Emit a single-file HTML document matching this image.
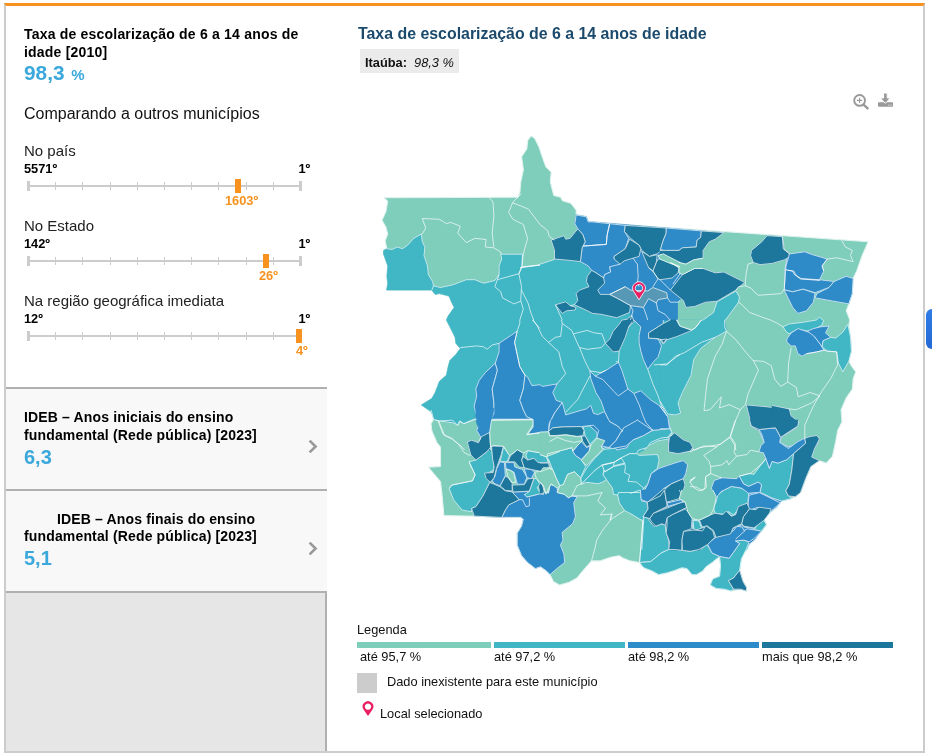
<!DOCTYPE html>
<html lang="pt-BR">
<head>
<meta charset="utf-8">
<title>Taxa de escolarização de 6 a 14 anos de idade</title>
<style>
*{box-sizing:border-box;margin:0;padding:0}
html,body{width:932px;height:753px;overflow:hidden;background:#fff}
body{position:relative;font-family:"Liberation Sans",sans-serif;color:#111}
.abs{position:absolute;white-space:nowrap}
#frame{position:absolute;left:4px;top:3px;width:921px;height:750px;border-left:2px solid #ccc;border-right:2px solid #ccc;border-bottom:2px solid #ccc;border-top:3px solid #f7921e}
.b13{font-size:14px;font-weight:bold;line-height:17.5px;color:#000;letter-spacing:.15px}
.blue{color:#3ba8dc;font-weight:bold}
.item{position:absolute;left:6px;width:321px;background:#f8f8f8;border-top:2px solid #b0b0b0}
.rank{font-size:12.8px;font-weight:bold;color:#000}
.or{color:#f7921e}
.lbl15{font-size:15px;color:#222}
.track{position:absolute;left:28px;width:273px;height:2px;background:#ccc}
.tick{position:absolute;width:1px;height:8px;background:#ccc}
.cap{position:absolute;width:3px;height:10px;background:#ccc}
.mark{position:absolute;width:6px;height:14px;background:#f7921e}
.t12{font-size:12.8px;color:#111}
</style>
</head>
<body>
<div id="frame"></div>

<!-- LEFT PANEL -->
<div class="abs b13" style="left:24px;top:25.0px;white-space:normal;width:290px;line-height:18px;letter-spacing:.2px">Taxa de escolarização de 6 a 14 anos de idade [2010]</div>
<div class="abs blue" style="left:24px;top:62px;font-size:20.8px;line-height:22px">98,3 <span style="font-size:15px;margin-left:1px">%</span></div>
<div class="abs" style="left:24px;top:104.5px;font-size:16px;line-height:18px;color:#111">Comparando a outros municípios</div>

<div class="abs lbl15" style="left:24px;top:141.6px;line-height:18px">No país</div>
<div class="abs rank" style="left:24px;top:160.7px;line-height:15px">5571º</div>
<div class="abs rank" style="left:298.5px;top:160.7px;line-height:15px">1º</div>
<div class="track" style="top:185.3px"></div>
<div class="cap" style="left:27px;top:181.3px"></div>
<div class="cap" style="left:299px;top:181.3px"></div>
<div class="tick" style="left:55.2px;top:182.3px"></div><div class="tick" style="left:82.4px;top:182.3px"></div><div class="tick" style="left:109.6px;top:182.3px"></div><div class="tick" style="left:136.8px;top:182.3px"></div><div class="tick" style="left:164.0px;top:182.3px"></div><div class="tick" style="left:191.2px;top:182.3px"></div><div class="tick" style="left:218.4px;top:182.3px"></div><div class="tick" style="left:245.6px;top:182.3px"></div><div class="tick" style="left:272.8px;top:182.3px"></div>
<div class="mark" style="left:235px;top:179.0px"></div>
<div class="abs rank or" style="left:225px;top:192.7px;line-height:15px">1603º</div>
<div class="abs lbl15" style="left:24px;top:216.6px;line-height:18px">No Estado</div>
<div class="abs rank" style="left:24px;top:235.7px;line-height:15px">142º</div>
<div class="abs rank" style="left:298.5px;top:235.7px;line-height:15px">1º</div>
<div class="track" style="top:260.3px"></div>
<div class="cap" style="left:27px;top:256.3px"></div>
<div class="cap" style="left:299px;top:256.3px"></div>
<div class="tick" style="left:55.2px;top:257.3px"></div><div class="tick" style="left:82.4px;top:257.3px"></div><div class="tick" style="left:109.6px;top:257.3px"></div><div class="tick" style="left:136.8px;top:257.3px"></div><div class="tick" style="left:164.0px;top:257.3px"></div><div class="tick" style="left:191.2px;top:257.3px"></div><div class="tick" style="left:218.4px;top:257.3px"></div><div class="tick" style="left:245.6px;top:257.3px"></div><div class="tick" style="left:272.8px;top:257.3px"></div>
<div class="mark" style="left:263px;top:254.0px"></div>
<div class="abs rank or" style="left:259px;top:267.7px;line-height:15px">26º</div>
<div class="abs lbl15" style="left:24px;top:291.6px;line-height:18px">Na região geográfica imediata</div>
<div class="abs rank" style="left:24px;top:310.7px;line-height:15px">12º</div>
<div class="abs rank" style="left:298.5px;top:310.7px;line-height:15px">1º</div>
<div class="track" style="top:335.3px"></div>
<div class="cap" style="left:27px;top:331.3px"></div>
<div class="cap" style="left:299px;top:331.3px"></div>
<div class="tick" style="left:55.2px;top:332.3px"></div><div class="tick" style="left:82.4px;top:332.3px"></div><div class="tick" style="left:109.6px;top:332.3px"></div><div class="tick" style="left:136.8px;top:332.3px"></div><div class="tick" style="left:164.0px;top:332.3px"></div><div class="tick" style="left:191.2px;top:332.3px"></div><div class="tick" style="left:218.4px;top:332.3px"></div><div class="tick" style="left:245.6px;top:332.3px"></div><div class="tick" style="left:272.8px;top:332.3px"></div>
<div class="mark" style="left:296px;top:329.0px"></div>
<div class="abs rank or" style="left:296px;top:342.7px;line-height:15px">4º</div>


<div class="item" style="top:387px;height:102px"></div>
<div class="item" style="top:489px;height:102px"></div>
<div style="position:absolute;left:6px;top:591px;width:321px;height:160px;background:#e6e6e6;border-top:2px solid #b0b0b0;border-right:2px solid #b0b0b0"></div>

<div class="abs b13" style="left:24px;top:409.4px;white-space:normal;width:270px">IDEB – Anos iniciais do ensino fundamental (Rede pública) [2023]</div>
<div class="abs blue" style="left:24px;top:445.5px;font-size:20px;line-height:22px">6,3</div>
<div class="abs b13" style="left:24px;top:510.7px;white-space:normal;width:270px"><span style="padding-left:33px">IDEB – Anos finais do ensino</span> fundamental (Rede pública) [2023]</div>
<div class="abs blue" style="left:24px;top:547.2px;font-size:20px;line-height:22px">5,1</div>

<!-- RIGHT PANEL -->
<div class="abs" style="left:358px;top:25px;font-size:15.9px;font-weight:bold;line-height:18px;color:#1b4a6d">Taxa de escolarização de 6 a 14 anos de idade</div>
<div class="abs" style="left:360px;top:49px;width:99px;height:24px;background:#ebebeb"></div>
<div class="abs t12" style="left:365px;top:55px;line-height:15px"><b>Itaúba:</b>&nbsp; <i>98,3 %</i></div>

<svg id="map" class="abs" style="left:0;top:0" width="932" height="753" viewBox="0 0 932 753">
<style>.w{fill:none}</style>
<g stroke="#fff" stroke-width="0.8" stroke-linejoin="round" stroke-opacity="0.85">
<polygon points="384.3,197.8 518.1,197.3 520.0,192.1 520.9,181.8 523.5,169.7 521.7,156.8 526.9,149.0 527.8,140.4 531.2,136.0 534.7,138.6 539.0,147.3 542.4,157.6 545.9,167.1 551.1,172.3 550.2,181.8 553.7,195.6 560.6,197.3 562.3,200.8 570.9,203.4 576.1,210.3 576.1,214.6 586.4,216.3 588.2,222.3 591.6,222.3 868.1,241.8 861.7,256.4 856.6,271.1 853.1,278.0 852.3,293.6 848.8,303.9 846.2,310.8 849.7,320.0 848.8,325.2 850.5,337.3 851.4,351.1 848.8,361.4 852.3,367.5 855.7,371.8 853.1,378.7 852.3,389.0 846.2,397.7 841.0,409.7 841.9,421.8 837.6,430.4 835.8,440.7 832.4,456.2 826.3,463.1 819.4,460.6 810.8,466.6 805.6,478.7 800.5,492.5 791.8,498.5 781.5,501.1 776.3,508.0 769.4,513.2 762.9,518.5 766.3,524.5 761.2,531.4 754.3,538.3 749.1,541.8 746.5,548.7 741.3,559.0 739.6,570.3 743.0,581.5 746.5,587.5 746.5,591.0 740.5,589.2 731.0,591.0 724.9,589.2 716.3,588.4 710.3,584.9 712.8,578.9 719.7,576.3 720.6,565.9 719.7,556.4 716.3,559.0 712.0,562.5 705.9,566.8 702.5,571.1 696.4,574.6 692.1,574.6 687.0,568.5 681.8,567.7 674.9,570.3 667.1,572.8 658.5,574.6 652.4,571.1 643.8,567.7 639.5,562.5 630.0,560.8 623.4,558.2 619.1,555.6 610.5,557.3 600.1,560.8 591.5,560.8 585.4,567.7 581.1,572.8 576.8,578.0 569.0,582.3 559.5,584.9 553.5,581.5 550.1,574.6 546.6,571.1 540.6,566.8 535.4,568.5 527.6,562.5 521.6,555.6 517.3,545.2 517.3,533.1 521.6,526.2 523.3,519.3 520.7,517.3 500.0,517.3 474.2,516.1 444.0,515.6 442.3,496.3 440.6,481.6 428.5,467.3 440.6,466.6 440.6,447.1 437.1,442.8 431.9,430.7 431.1,423.8 433.7,419.5 431.1,410.0 430.9,411.5 425.7,408.0 421.4,404.9 431.8,398.5 435.2,392.5 439.5,381.3 446.4,375.2 448.2,366.6 449.9,360.6 455.9,354.5 460.3,348.5 455.9,343.3 455.1,337.3 450.8,328.6 446.4,320.0 448.2,316.0 454.2,307.4 451.6,302.2 449.0,296.1 439.5,293.6 435.2,294.4 431.8,290.1 386.6,290.1 387.8,283.2 386.9,276.3 387.8,265.9 383.5,253.9 383.5,250.4 386.9,248.7 385.2,240.9 387.8,234.0 386.0,227.1 382.1,220.2 386.0,211.6 387.8,201.2" fill="#7fcdbb" stroke="#7fcdbb" stroke-opacity="1" stroke-width="0.5"/>
<path d="M384.3 197.8 L518.1 197.3 L520.0 192.1 L520.9 181.8 L523.5 169.7 L521.7 156.8 L526.9 149.0 L527.8 140.4 L531.2 136.0 L534.7 138.6 L539.0 147.3 L542.4 157.6 L545.9 167.1 L551.1 172.3 L550.2 181.8 L553.7 195.6 L560.6 197.3 L562.3 200.8 L570.9 203.4 L576.1 210.3 L576.1 214.6 L586.4 216.3 L588.2 222.3 L591.6 222.3 L868.1 241.8 L861.7 256.4 L856.6 271.1 L853.1 278.0 L852.3 293.6 L848.8 303.9 L846.2 310.8 L849.7 320.0 L848.8 325.2 L850.5 337.3 L851.4 351.1 L848.8 361.4 L852.3 367.5 L855.7 371.8 L853.1 378.7 L852.3 389.0 L846.2 397.7 L841.0 409.7 L841.9 421.8 L837.6 430.4 L835.8 440.7 L832.4 456.2 L826.3 463.1 L819.4 460.6 L810.8 466.6 L805.6 478.7 L800.5 492.5 L791.8 498.5 L781.5 501.1 L776.3 508.0 L769.4 513.2 L762.9 518.5 L766.3 524.5 L761.2 531.4 L754.3 538.3 L749.1 541.8 L746.5 548.7 L741.3 559.0 L739.6 570.3 L743.0 581.5 L746.5 587.5 L746.5 591.0 L740.5 589.2 L731.0 591.0 L724.9 589.2 L716.3 588.4 L710.3 584.9 L712.8 578.9 L719.7 576.3 L720.6 565.9 L719.7 556.4 L716.3 559.0 L712.0 562.5 L705.9 566.8 L702.5 571.1 L696.4 574.6 L692.1 574.6 L687.0 568.5 L681.8 567.7 L674.9 570.3 L667.1 572.8 L658.5 574.6 L652.4 571.1 L643.8 567.7 L639.5 562.5 L630.0 560.8 L623.4 558.2 L619.1 555.6 L610.5 557.3 L600.1 560.8 L591.5 560.8 L585.4 567.7 L581.1 572.8 L576.8 578.0 L569.0 582.3 L559.5 584.9 L553.5 581.5 L550.1 574.6 L546.6 571.1 L540.6 566.8 L535.4 568.5 L527.6 562.5 L521.6 555.6 L517.3 545.2 L517.3 533.1 L521.6 526.2 L523.3 519.3 L520.7 517.3 L500.0 517.3 L474.2 516.1 L444.0 515.6 L442.3 496.3 L440.6 481.6 L428.5 467.3 L440.6 466.6 L440.6 447.1 L437.1 442.8 L431.9 430.7 L431.1 423.8 L433.7 419.5 L431.1 410.0 L430.9 411.5 L425.7 408.0 L421.4 404.9 L431.8 398.5 L435.2 392.5 L439.5 381.3 L446.4 375.2 L448.2 366.6 L449.9 360.6 L455.9 354.5 L460.3 348.5 L455.9 343.3 L455.1 337.3 L450.8 328.6 L446.4 320.0 L448.2 316.0 L454.2 307.4 L451.6 302.2 L449.0 296.1 L439.5 293.6 L435.2 294.4 L431.8 290.1 L386.6 290.1 L387.8 283.2 L386.9 276.3 L387.8 265.9 L383.5 253.9 L383.5 250.4 L386.9 248.7 L385.2 240.9 L387.8 234.0 L386.0 227.1 L382.1 220.2 L386.0 211.6 L387.8 201.2 L384.3 197.8" class="w"/>
<polygon points="386.9,248.7 392.1,249.5 397.3,247.0 402.4,248.7 407.6,245.2 413.7,238.3 421.4,234.0 422.3,241.8 424.9,247.0 424.0,255.6 427.5,265.9 428.3,274.6 432.6,281.5 433.5,285.8 440.4,287.5 452.5,284.9 466.3,279.7 474.9,279.7 483.6,283.2 494.8,280.6 499.1,274.6 499.1,265.9 501.7,259.0 500.8,254.2 522.4,254.2 521.9,266.8 530.2,265.9 540.0,265.1 520.0,267.7 537.3,265.1 554.5,259.4 570.1,260.4 580.4,261.6 597.7,265.9 623.6,320.0 640.8,320.0 701.4,320.0 724.7,320.0 726.4,331.2 715.2,337.3 700.6,348.5 693.7,359.7 691.1,375.2 682.4,392.5 678.1,402.8 680.7,413.2 675.5,414.9 667.8,414.1 670.2,427.9 668.4,439.1 658.1,440.8 647.7,446.0 644.3,450.0 636.7,453.7 621.1,458.0 602.1,464.9 586.6,478.7 581.4,483.9 577.0,426.1 548.5,432.2 532.7,419.2 491.3,419.2 476.7,419.2 463.7,423.6 459.4,421.0 457.7,425.3 452.5,420.1 438.7,421.0 435.2,419.8 430.9,411.5 425.7,408.0 421.4,404.9 431.8,398.5 435.2,392.5 439.5,381.3 446.4,375.2 448.2,366.6 449.9,360.6 455.9,354.5 460.3,348.5 455.9,343.3 455.1,337.3 450.8,328.6 446.4,320.0 448.2,316.0 454.2,307.4 451.6,302.2 449.0,296.1 439.5,293.6 435.2,294.4 431.8,290.1 386.6,290.1 387.8,283.2 386.9,276.3 387.8,265.9 383.5,253.9 383.5,250.4" fill="#41b6c4" stroke="#41b6c4" stroke-opacity="1" stroke-width="0.6"/>
<polygon points="576.1,215.0 586.4,216.8 588.2,221.9 592.5,221.9 666.0,228.0 701.4,230.9 700.6,237.5 697.1,240.1 696.2,247.0 682.4,247.8 679.0,250.4 680.7,272.8 682.4,274.6 670.4,290.1 680.7,298.7 677.3,302.2 677.3,320.0 660.0,320.0 663.3,320.0 633.9,320.0 630.5,320.0 630.5,305.6 616.7,297.9 609.7,294.4 600.3,294.4 597.7,290.1 604.6,283.2 603.7,278.0 595.9,272.8 591.6,270.3 588.2,265.9 580.4,261.6 582.1,247.8 585.2,241.8 583.0,234.9 577.8,228.8 574.9,223.7" fill="#2f8ac8" stroke="#2f8ac8" stroke-opacity="1" stroke-width="0.6"/>
<polygon points="614.2,313.1 630.6,310.6 634.1,321.8 621.1,321.8" fill="#41b6c4" stroke="#41b6c4" stroke-opacity="1" stroke-width="0.6"/>
<polygon points="701.4,320.0 724.7,320.0 724.7,326.9 726.4,331.2 715.2,337.3 700.6,348.5 693.7,359.7 691.1,375.2 682.4,392.5 678.1,402.8 680.7,413.2 675.5,414.9 667.8,414.1 660.0,401.1 660.0,344.2 666.9,339.8 677.3,336.4 691.9,330.4 695.4,327.8" fill="#41b6c4" stroke="#41b6c4" stroke-opacity="1" stroke-width="0.6"/>
<polygon points="735.9,291.0 739.4,297.0 738.5,302.2 725.6,320.0 724.7,320.0 701.4,320.0 703.1,320.0 713.5,312.5 717.0,301.8" fill="#41b6c4" stroke="#41b6c4" stroke-opacity="1" stroke-width="0.5"/>
<path d="M735.9 291.0 L739.4 297.0 L738.5 302.2 L725.6 320.0 L724.7 320.0 M701.4 320.0 L703.1 320.0 L713.5 312.5 L717.0 301.8 L735.9 291.0" class="w"/>
<polygon points="783.0,326.9 789.0,324.0 802.8,322.3 816.7,320.0 819.2,317.1 823.6,320.6 821.8,325.2 816.7,328.0 808.9,331.3 797.7,329.2 789.0,333.8 786.4,331.8" fill="#41b6c4" stroke="#41b6c4" stroke-opacity="1" stroke-width="0.5"/>
<path d="M783.0 326.9 L789.0 324.0 L802.8 322.3 L816.7 320.0 L819.2 317.1 L823.6 320.6 L821.8 325.2 L816.7 328.0 L808.9 331.3 L797.7 329.2 L789.0 333.8 L786.4 331.8 L783.0 326.9" class="w"/>
<polygon points="822.9,340.7 830.7,337.3 835.9,338.1 842.8,332.1 847.9,324.3 850.5,337.3 851.4,351.1 848.8,361.4 842.8,371.8 838.4,363.1 836.7,351.9 827.2,351.1 822.1,346.8" fill="#41b6c4" stroke="#41b6c4" stroke-opacity="1" stroke-width="0.5"/>
<path d="M822.9 340.7 L830.7 337.3 L835.9 338.1 L842.8 332.1 L847.9 324.3 L850.5 337.3 L851.4 351.1 L848.8 361.4 L842.8 371.8 L838.4 363.1 L836.7 351.9 L827.2 351.1 L822.1 346.8 L822.9 340.7" class="w"/>
<polygon points="652.9,430.5 658.1,428.7 670.2,427.9 671.9,433.0 668.4,439.1 658.1,440.8 647.7,446.0 644.3,450.0 627.9,450.0 627.0,447.7 630.5,440.8 644.3,433.9" fill="#41b6c4" stroke="#41b6c4" stroke-opacity="1" stroke-width="0.5"/>
<path d="M652.9 430.5 L658.1 428.7 L670.2 427.9 L671.9 433.0 L668.4 439.1 L658.1 440.8 L647.7 446.0 L644.3 450.0 M627.9 450.0 L627.0 447.7 L630.5 440.8 L644.3 433.9 L652.9 430.5" class="w"/>
<polygon points="660.0,429.6 669.5,429.6 672.1,432.2 668.6,437.4 660.0,437.4 671.9,433.0 670.2,427.9" fill="#41b6c4" stroke="#41b6c4" stroke-opacity="1" stroke-width="0.5"/>
<path d="M660.0 429.6 L669.5 429.6 L672.1 432.2 L668.6 437.4 L660.0 437.4 L671.9 433.0 L670.2 427.9 L660.0 429.6" class="w"/>
<polygon points="583.9,427.0 589.0,425.3 596.8,432.2 597.7,440.8 590.8,446.0 585.6,434.8" fill="#41b6c4" stroke="#41b6c4" stroke-opacity="1" stroke-width="0.5"/>
<path d="M583.9 427.0 L589.0 425.3 L596.8 432.2 L597.7 440.8 L590.8 446.0 L585.6 434.8 L583.9 427.0" class="w"/>
<polygon points="431.1,410.0 475.9,410.0 475.9,418.6 469.0,421.2 463.9,423.8 460.4,421.2 457.8,425.5 453.5,422.9 438.0,420.7 433.7,419.5" fill="#41b6c4" stroke="#41b6c4" stroke-opacity="1" stroke-width="0.6"/>
<polygon points="487.2,451.4 491.1,446.6 492.3,454.9 494.1,465.2 493.2,470.4 486.3,473.9 489.7,482.5 482.8,496.3 475.9,506.7 471.6,508.4 471.6,511.8 462.1,510.1 453.5,499.7 449.2,488.5 451.8,485.1 472.5,480.8 475.1,474.7 469.0,461.8 475.9,460.1" fill="#41b6c4" stroke="#41b6c4" stroke-opacity="1" stroke-width="0.5"/>
<path d="M487.2 451.4 L491.1 446.6 L492.3 454.9 L494.1 465.2 L493.2 470.4 L486.3 473.9 L489.7 482.5 L482.8 496.3 L475.9 506.7 L471.6 508.4 L471.6 511.8 L462.1 510.1 L453.5 499.7 L449.2 488.5 L451.8 485.1 L472.5 480.8 L475.1 474.7 L469.0 461.8 L475.9 460.1 L487.2 451.4" class="w"/>
<polygon points="503.6,447.1 509.6,455.7 507.0,461.8 500.1,461.4" fill="#41b6c4" stroke="#41b6c4" stroke-opacity="1" stroke-width="0.5"/>
<path d="M503.6 447.1 L509.6 455.7 L507.0 461.8 L500.1 461.4 L503.6 447.1" class="w"/>
<polygon points="527.7,450.6 541.5,453.1 546.7,457.5 548.4,462.6 538.1,462.6 533.8,458.3 527.7,460.1 526.0,455.7" fill="#41b6c4" stroke="#41b6c4" stroke-opacity="1" stroke-width="0.5"/>
<path d="M527.7 450.6 L541.5 453.1 L546.7 457.5 L548.4 462.6 L538.1 462.6 L533.8 458.3 L527.7 460.1 L526.0 455.7 L527.7 450.6" class="w"/>
<polygon points="533.8,479.0 536.3,478.2 539.8,484.2 537.2,487.7 540.7,493.7 526.9,497.2 524.3,494.6 529.4,491.1" fill="#41b6c4" stroke="#41b6c4" stroke-opacity="1" stroke-width="0.5"/>
<path d="M533.8 479.0 L536.3 478.2 L539.8 484.2 L537.2 487.7 L540.7 493.7 L526.9 497.2 L524.3 494.6 L529.4 491.1 L533.8 479.0" class="w"/>
<polygon points="546.7,456.6 560.0,451.4 540.0,454.5 546.9,457.1 548.6,459.7 548.6,463.1 540.0,463.1 560.0,494.6 557.1,493.7 557.1,482.5 551.9,468.7 549.3,467.0 548.4,462.6" fill="#41b6c4" stroke="#41b6c4" stroke-opacity="1" stroke-width="0.5"/>
<path d="M546.7 456.6 L560.0 451.4 L540.0 454.5 L546.9 457.1 L548.6 459.7 L548.6 463.1 L540.0 463.1 L560.0 494.6 L557.1 493.7 L557.1 482.5 L551.9 468.7 L549.3 467.0 L548.4 462.6 L546.7 456.6" class="w"/>
<polygon points="583.1,426.6 593.5,425.2 598.7,430.4 597.0,437.3 590.1,444.2 585.2,435.9 584.0,430.4" fill="#41b6c4" stroke="#41b6c4" stroke-opacity="1" stroke-width="0.5"/>
<path d="M583.1 426.6 L593.5 425.2 L598.7 430.4 L597.0 437.3 L590.1 444.2 L585.2 435.9 L584.0 430.4 L583.1 426.6" class="w"/>
<polygon points="652.2,430.4 660.8,429.5 669.4,428.6 672.0,432.1 667.7,437.3 660.8,438.1 650.5,442.4 647.0,447.6 638.4,450.2 636.7,453.7 629.7,453.7 621.1,458.0 614.2,462.3 602.1,464.9 595.2,470.1 586.6,478.7 581.4,483.9 580.6,478.7 586.6,468.3 593.5,459.7 600.4,452.8 603.9,449.3 612.5,448.5 626.3,445.9 633.2,439.8 643.6,435.5" fill="#41b6c4" stroke="#41b6c4" stroke-opacity="1" stroke-width="0.5"/>
<path d="M652.2 430.4 L660.8 429.5 L669.4 428.6 L672.0 432.1 L667.7 437.3 L660.8 438.1 L650.5 442.4 L647.0 447.6 L638.4 450.2 L636.7 453.7 L629.7 453.7 L621.1 458.0 L614.2 462.3 L602.1 464.9 L595.2 470.1 L586.6 478.7 L581.4 483.9 L580.6 478.7 L586.6 468.3 L593.5 459.7 L600.4 452.8 L603.9 449.3 L612.5 448.5 L626.3 445.9 L633.2 439.8 L643.6 435.5 L652.2 430.4" class="w"/>
<polygon points="546.9,457.1 547.8,453.7 562.4,450.2 571.9,447.6 572.8,451.1 575.4,455.4 581.4,459.7 585.7,466.6 580.6,477.8 574.5,471.8 567.6,474.4 563.3,484.7 559.8,485.6 556.4,478.7 552.9,470.1 548.6,459.7" fill="#41b6c4" stroke="#41b6c4" stroke-opacity="1" stroke-width="0.5"/>
<path d="M546.9 457.1 L547.8 453.7 L562.4 450.2 L571.9 447.6 L572.8 451.1 L575.4 455.4 L581.4 459.7 L585.7 466.6 L580.6 477.8 L574.5 471.8 L567.6 474.4 L563.3 484.7 L559.8 485.6 L556.4 478.7 L552.9 470.1 L548.6 459.7 L546.9 457.1" class="w"/>
<polygon points="602.1,465.2 614.2,462.3 621.1,458.0 629.7,453.7 636.7,453.7 639.2,455.4 657.4,454.5 659.1,459.7 657.4,468.3 651.3,473.5 647.9,483.9 643.6,488.2 640.1,492.5 641.8,501.1 647.0,502.8 647.9,509.7 643.6,516.7 647.9,520.1 653.9,527.0 659.1,523.6 665.1,526.1 668.6,540.8 669.4,550.0 641.8,550.0 643.6,521.8 641.8,519.2 624.6,510.6 619.4,502.8 617.7,495.1 613.4,494.2 612.5,488.2 606.4,479.5 603.0,475.2 603.9,470.1" fill="#41b6c4" stroke="#41b6c4" stroke-opacity="1" stroke-width="0.5"/>
<path d="M602.1 465.2 L614.2 462.3 L621.1 458.0 L629.7 453.7 L636.7 453.7 L639.2 455.4 L657.4 454.5 L659.1 459.7 L657.4 468.3 L651.3 473.5 L647.9 483.9 L643.6 488.2 L640.1 492.5 L641.8 501.1 L647.0 502.8 L647.9 509.7 L643.6 516.7 L647.9 520.1 L653.9 527.0 L659.1 523.6 L665.1 526.1 L668.6 540.8 L669.4 550.0 M641.8 550.0 L643.6 521.8 L641.8 519.2 L624.6 510.6 L619.4 502.8 L617.7 495.1 L613.4 494.2 L612.5 488.2 L606.4 479.5 L603.0 475.2 L603.9 470.1 L602.1 465.2" class="w"/>
<polygon points="693.6,520.1 700.0,520.1 700.0,530.5 692.7,528.7" fill="#41b6c4" stroke="#41b6c4" stroke-opacity="1" stroke-width="0.5"/>
<path d="M693.6 520.1 L700.0 520.1 M700.0 530.5 L692.7 528.7 L693.6 520.1" class="w"/>
<polygon points="581.1,484.5 586.6,478.7 595.2,470.1 602.1,465.2 603.9,470.1 603.0,475.2 606.4,479.5 602.7,482.0 598.3,483.7 590.6,482.8 586.3,482.3" fill="#41b6c4" stroke="#41b6c4" stroke-opacity="1" stroke-width="0.5"/>
<path d="M581.1 484.5 L586.6 478.7 L595.2 470.1 L602.1 465.2 L603.9 470.1 L603.0 475.2 L606.4 479.5 L602.7 482.0 L598.3 483.7 L590.6 482.8 L586.3 482.3 L581.1 484.5" class="w"/>
<polygon points="765.9,458.8 769.4,468.3 772.0,461.4 778.0,463.1 786.7,459.7 793.6,453.7 791.8,470.1 789.2,484.7 785.8,490.8 788.4,495.9 791.8,498.5 781.5,501.1 771.1,497.7 764.2,494.2 759.9,492.5 761.6,484.7 758.2,482.1 748.7,486.4 743.5,483.9 739.2,476.1 748.7,473.5 753.9,474.4 760.8,464.9" fill="#41b6c4" stroke="#41b6c4" stroke-opacity="1" stroke-width="0.5"/>
<path d="M765.9 458.8 L769.4 468.3 L772.0 461.4 L778.0 463.1 L786.7 459.7 L793.6 453.7 L791.8 470.1 L789.2 484.7 L785.8 490.8 L788.4 495.9 L791.8 498.5 L781.5 501.1 L771.1 497.7 L764.2 494.2 L759.9 492.5 L761.6 484.7 L758.2 482.1 L748.7 486.4 L743.5 483.9 L739.2 476.1 L748.7 473.5 L753.9 474.4 L760.8 464.9 L765.9 458.8" class="w"/>
<polygon points="717.6,495.9 721.1,491.6 731.4,486.4 741.8,488.2 747.8,494.2 747.0,502.8 738.3,506.3 735.7,514.1 731.4,515.8 726.2,510.6 722.8,514.1 715.0,512.3 715.9,502.8" fill="#41b6c4" stroke="#41b6c4" stroke-opacity="1" stroke-width="0.5"/>
<path d="M717.6 495.9 L721.1 491.6 L731.4 486.4 L741.8 488.2 L747.8 494.2 L747.0 502.8 L738.3 506.3 L735.7 514.1 L731.4 515.8 L726.2 510.6 L722.8 514.1 L715.0 512.3 L715.9 502.8 L717.6 495.9" class="w"/>
<polygon points="753.9,527.9 764.2,520.1 765.9,526.1 759.0,533.9 754.7,530.5" fill="#41b6c4" stroke="#41b6c4" stroke-opacity="1" stroke-width="0.5"/>
<path d="M753.9 527.9 L764.2 520.1 L765.9 526.1 L759.0 533.9 L754.7 530.5 L753.9 527.9" class="w"/>
<polygon points="734.9,544.3 735.7,540.0 747.0,541.3 749.5,544.3 747.0,550.0 729.7,550.0" fill="#41b6c4" stroke="#41b6c4" stroke-opacity="1" stroke-width="0.5"/>
<path d="M734.9 544.3 L735.7 540.0 L747.0 541.3 L749.5 544.3 L747.0 550.0 M729.7 550.0 L734.9 544.3" class="w"/>
<polygon points="692.6,520.1 699.5,520.1 702.1,527.0 700.4,530.5 693.5,529.6" fill="#41b6c4" stroke="#41b6c4" stroke-opacity="1" stroke-width="0.5"/>
<path d="M692.6 520.1 L699.5 520.1 L702.1 527.0 L700.4 530.5 L693.5 529.6 L692.6 520.1" class="w"/>
<polygon points="719.7,556.4 720.6,565.9 719.7,576.3 712.8,578.9 710.3,584.9 716.3,588.4 724.9,589.2 731.0,591.0 733.6,589.2 728.4,580.6 733.6,578.0 739.6,570.3 741.3,559.0 746.5,548.7 749.1,541.8 743.9,540.1 735.3,540.9 739.6,543.5 733.6,552.1 729.2,558.2 724.1,557.3" fill="#41b6c4" stroke="#41b6c4" stroke-opacity="1" stroke-width="0.5"/>
<path d="M719.7 556.4 L720.6 565.9 L719.7 576.3 L712.8 578.9 L710.3 584.9 L716.3 588.4 L724.9 589.2 L731.0 591.0 L733.6 589.2 L728.4 580.6 L733.6 578.0 L739.6 570.3 L741.3 559.0 L746.5 548.7 L749.1 541.8 L743.9 540.1 L735.3 540.9 L739.6 543.5 L733.6 552.1 L729.2 558.2 L724.1 557.3 L719.7 556.4" class="w"/>
<polygon points="754.3,529.7 761.2,518.5 762.9,518.5 766.3,524.5 761.2,531.4 758.6,530.6" fill="#41b6c4" stroke="#41b6c4" stroke-opacity="1" stroke-width="0.5"/>
<path d="M754.3 529.7 L761.2 518.5 L762.9 518.5 L766.3 524.5 L761.2 531.4 L758.6 530.6 L754.3 529.7" class="w"/>
<polygon points="713.7,509.0 717.2,495.2 724.1,490.0 749.1,490.0 749.1,495.2 748.2,502.9 740.5,506.4 733.6,515.0 728.4,511.6 723.2,514.2 715.4,513.3" fill="#41b6c4" stroke="#41b6c4" stroke-opacity="1" stroke-width="0.5"/>
<path d="M713.7 509.0 L717.2 495.2 L724.1 490.0 M749.1 490.0 L749.1 495.2 L748.2 502.9 L740.5 506.4 L733.6 515.0 L728.4 511.6 L723.2 514.2 L715.4 513.3 L713.7 509.0" class="w"/>
<polygon points="693.0,520.2 699.0,521.1 700.8,526.2 702.5,530.6 693.9,529.7" fill="#41b6c4" stroke="#41b6c4" stroke-opacity="1" stroke-width="0.5"/>
<path d="M693.0 520.2 L699.0 521.1 L700.8 526.2 L702.5 530.6 L693.9 529.7 L693.0 520.2" class="w"/>
<polygon points="630.0,493.5 640.4,490.0 641.2,499.5 647.3,502.1 648.1,509.0 642.9,516.8 649.8,518.5 651.6,521.9 655.9,526.2 661.9,523.7 665.4,525.4 666.2,533.1 669.7,541.8 668.8,549.5 661.1,553.0 650.7,561.6 639.5,562.5 642.9,521.1 630.0,513.3" fill="#41b6c4" stroke="#41b6c4" stroke-opacity="1" stroke-width="0.5"/>
<path d="M630.0 493.5 L640.4 490.0 L641.2 499.5 L647.3 502.1 L648.1 509.0 L642.9 516.8 L649.8 518.5 L651.6 521.9 L655.9 526.2 L661.9 523.7 L665.4 525.4 L666.2 533.1 L669.7 541.8 L668.8 549.5 L661.1 553.0 L650.7 561.6 L639.5 562.5 L642.9 521.1 L630.0 513.3" class="w"/>
<polygon points="639.5,562.5 650.7,561.6 661.1,553.0 668.8,549.5 675.7,549.5 682.6,550.4 690.4,551.3 699.0,549.5 707.7,544.4 712.0,553.0 719.7,556.4 716.3,559.0 712.0,562.5 705.9,566.8 702.5,571.1 696.4,574.6 692.1,574.6 687.0,568.5 681.8,567.7 674.9,570.3 667.1,572.8 658.5,574.6 652.4,571.1 643.8,567.7" fill="#41b6c4" stroke="#41b6c4" stroke-opacity="1" stroke-width="0.5"/>
<path d="M639.5 562.5 L650.7 561.6 L661.1 553.0 L668.8 549.5 L675.7 549.5 L682.6 550.4 L690.4 551.3 L699.0 549.5 L707.7 544.4 L712.0 553.0 L719.7 556.4 L716.3 559.0 L712.0 562.5 L705.9 566.8 L702.5 571.1 L696.4 574.6 L692.1 574.6 L687.0 568.5 L681.8 567.7 L674.9 570.3 L667.1 572.8 L658.5 574.6 L652.4 571.1 L643.8 567.7 L639.5 562.5" class="w"/>
<polygon points="576.1,215.0 586.4,216.8 588.2,221.9 592.5,221.9 609.7,223.7 607.2,234.9 606.3,244.4 583.0,246.1 585.2,241.8 583.0,234.9 577.8,228.8 574.9,223.7" fill="#2f8ac8" stroke="#2f8ac8" stroke-opacity="1" stroke-width="0.5"/>
<path d="M576.1 215.0 L586.4 216.8 L588.2 221.9 L592.5 221.9 L609.7 223.7 L607.2 234.9 L606.3 244.4 L583.0 246.1 L585.2 241.8 L583.0 234.9 L577.8 228.8 L574.9 223.7 L576.1 215.0" class="w"/>
<polygon points="609.7,223.7 625.3,225.4 624.4,231.4 628.7,238.3 625.3,248.7 614.1,256.4 614.1,259.0 620.1,264.2 609.7,266.8 610.6,272.0 604.6,274.6 603.7,278.0 595.9,272.8 591.6,270.3 588.2,265.9 580.4,261.6 582.1,247.8 583.0,246.1 606.3,244.4 607.2,234.9" fill="#2f8ac8" stroke="#2f8ac8" stroke-opacity="1" stroke-width="0.5"/>
<path d="M609.7 223.7 L625.3 225.4 L624.4 231.4 L628.7 238.3 L625.3 248.7 L614.1 256.4 L614.1 259.0 L620.1 264.2 L609.7 266.8 L610.6 272.0 L604.6 274.6 L603.7 278.0 L595.9 272.8 L591.6 270.3 L588.2 265.9 L580.4 261.6 L582.1 247.8 L583.0 246.1 L606.3 244.4 L607.2 234.9 L609.7 223.7" class="w"/>
<polygon points="614.1,259.0 620.1,264.2 624.4,260.8 633.0,258.2 639.1,256.4 640.8,248.7 641.7,251.3 648.6,267.7 652.9,271.1 658.1,278.9 671.9,278.0 677.9,272.8 680.0,277.2 682.4,274.6 670.4,290.1 680.7,298.7 677.3,302.2 677.3,320.0 660.0,320.0 663.3,320.0 633.9,320.0 630.5,320.0 630.5,305.6 616.7,297.9 609.7,294.4 600.3,294.4 597.7,290.1 604.6,283.2 603.7,278.0 604.6,274.6 610.6,272.0 609.7,266.8" fill="#2f8ac8" stroke="#2f8ac8" stroke-opacity="1" stroke-width="0.6"/>
<polygon points="666.0,228.0 701.4,230.9 700.6,237.5 697.1,240.1 696.2,247.0 682.4,247.8 679.0,250.4 660.0,250.4 662.6,241.8 666.0,233.1" fill="#2f8ac8" stroke="#2f8ac8" stroke-opacity="1" stroke-width="0.5"/>
<path d="M666.0 228.0 L701.4 230.9 L700.6 237.5 L697.1 240.1 L696.2 247.0 L682.4 247.8 L679.0 250.4 L660.0 250.4 L662.6 241.8 L666.0 233.1 L666.0 228.0" class="w"/>
<polygon points="789.3,253.9 804.8,251.8 812.6,254.7 827.2,259.0 822.1,265.9 823.8,271.1 819.5,279.7 800.5,278.9 794.4,274.6 792.7,271.1 784.9,269.7 786.7,259.0" fill="#2f8ac8" stroke="#2f8ac8" stroke-opacity="1" stroke-width="0.5"/>
<path d="M789.3 253.9 L804.8 251.8 L812.6 254.7 L827.2 259.0 L822.1 265.9 L823.8 271.1 L819.5 279.7 L800.5 278.9 L794.4 274.6 L792.7 271.1 L784.9 269.7 L786.7 259.0 L789.3 253.9" class="w"/>
<polygon points="784.9,269.7 792.7,271.1 794.4,274.6 800.5,278.9 819.5,279.7 834.1,281.5 829.0,287.5 815.1,292.7 803.1,289.2 792.7,291.8 784.1,289.8 784.9,279.7" fill="#2f8ac8" stroke="#2f8ac8" stroke-opacity="1" stroke-width="0.5"/>
<path d="M784.9 269.7 L792.7 271.1 L794.4 274.6 L800.5 278.9 L819.5 279.7 L834.1 281.5 L829.0 287.5 L815.1 292.7 L803.1 289.2 L792.7 291.8 L784.1 289.8 L784.9 279.7 L784.9 269.7" class="w"/>
<polygon points="784.1,289.8 792.7,291.8 803.1,289.2 815.1,293.2 813.4,302.2 806.5,310.8 797.9,313.4 792.7,307.4 788.4,298.7" fill="#2f8ac8" stroke="#2f8ac8" stroke-opacity="1" stroke-width="0.5"/>
<path d="M784.1 289.8 L792.7 291.8 L803.1 289.2 L815.1 293.2 L813.4 302.2 L806.5 310.8 L797.9 313.4 L792.7 307.4 L788.4 298.7 L784.1 289.8" class="w"/>
<polygon points="834.1,281.5 846.2,276.3 853.1,278.4 852.3,293.6 848.8,303.9 815.1,297.9 816.9,293.6 829.0,287.5" fill="#2f8ac8" stroke="#2f8ac8" stroke-opacity="1" stroke-width="0.5"/>
<path d="M834.1 281.5 L846.2 276.3 L853.1 278.4 L852.3 293.6 L848.8 303.9 L815.1 297.9 L816.9 293.6 L829.0 287.5 L834.1 281.5" class="w"/>
<polygon points="495.3,363.1 485.3,372.6 479.2,380.4 475.8,389.0 476.7,395.9 474.1,406.3 477.5,418.4 479.2,425.3 476.7,430.5 481.0,437.4 489.6,432.2 490.5,420.1 493.9,413.2 493.9,402.8 492.2,389.0 495.6,377.0 497.4,370.1" fill="#2f8ac8" stroke="#2f8ac8" stroke-opacity="1" stroke-width="0.5"/>
<path d="M495.3 363.1 L485.3 372.6 L479.2 380.4 L475.8 389.0 L476.7 395.9 L474.1 406.3 L477.5 418.4 L479.2 425.3 L476.7 430.5 L481.0 437.4 L489.6 432.2 L490.5 420.1 L493.9 413.2 L493.9 402.8 L492.2 389.0 L495.6 377.0 L497.4 370.1 L495.3 363.1" class="w"/>
<polygon points="517.2,331.2 499.1,343.3 499.1,351.9 495.3,363.1 497.4,370.1 495.6,377.0 492.2,389.0 493.9,402.8 493.9,413.2 491.3,419.2 532.7,419.2 526.7,416.7 523.3,409.7 519.8,400.3 523.3,389.0 525.0,375.2 519.8,366.6 517.2,354.5 514.6,342.4" fill="#2f8ac8" stroke="#2f8ac8" stroke-opacity="1" stroke-width="0.5"/>
<path d="M517.2 331.2 L499.1 343.3 L499.1 351.9 L495.3 363.1 L497.4 370.1 L495.6 377.0 L492.2 389.0 L493.9 402.8 L493.9 413.2 L491.3 419.2 L532.7 419.2 L526.7 416.7 L523.3 409.7 L519.8 400.3 L523.3 389.0 L525.0 375.2 L519.8 366.6 L517.2 354.5 L514.6 342.4 L517.2 331.2" class="w"/>
<polygon points="525.0,375.2 527.6,377.0 531.9,385.6 540.0,384.7 542.4,386.4 557.1,383.9 552.8,392.5 556.2,400.3 562.3,402.5 554.5,413.2 549.3,423.6 548.5,432.2 526.9,434.8 532.9,425.3 532.9,419.2 532.7,419.2 526.7,416.7 523.3,409.7 519.8,400.3 523.3,389.0" fill="#2f8ac8" stroke="#2f8ac8" stroke-opacity="1" stroke-width="0.5"/>
<path d="M525.0 375.2 L527.6 377.0 L531.9 385.6 L540.0 384.7 L542.4 386.4 L557.1 383.9 L552.8 392.5 L556.2 400.3 L562.3 402.5 L554.5 413.2 L549.3 423.6 L548.5 432.2 L526.9 434.8 L532.9 425.3 L532.9 419.2 L532.7 419.2 L526.7 416.7 L523.3 409.7 L519.8 400.3 L523.3 389.0 L525.0 375.2" class="w"/>
<polygon points="475.9,408.3 494.1,408.3 491.5,420.4 489.7,432.4 481.1,436.8 479.4,429.0 476.8,423.8 475.9,418.6" fill="#2f8ac8" stroke="#2f8ac8" stroke-opacity="1" stroke-width="0.6"/>
<polygon points="562.3,402.5 565.7,414.9 577.0,411.5 586.4,408.9 590.8,405.4 593.4,413.2 597.7,414.6 604.6,411.5 611.5,425.3 620.1,428.7 621.8,432.2 613.2,444.3 602.8,448.6 597.7,440.8 596.8,432.2 589.0,425.3 583.0,427.0 577.0,426.1 560.6,427.0 552.8,427.9 548.5,432.2 549.3,423.6 554.5,413.2" fill="#2f8ac8" stroke="#2f8ac8" stroke-opacity="1" stroke-width="0.5"/>
<path d="M562.3 402.5 L565.7 414.9 L577.0 411.5 L586.4 408.9 L590.8 405.4 L593.4 413.2 L597.7 414.6 L604.6 411.5 L611.5 425.3 L620.1 428.7 L621.8 432.2 L613.2 444.3 L602.8 448.6 L597.7 440.8 L596.8 432.2 L589.0 425.3 L583.0 427.0 L577.0 426.1 L560.6 427.0 L552.8 427.9 L548.5 432.2 L549.3 423.6 L554.5 413.2 L562.3 402.5" class="w"/>
<polygon points="589.9,370.9 595.1,376.1 606.3,370.1 618.4,362.3 621.8,370.1 627.9,389.0 633.9,393.4 640.8,390.8 651.2,400.3 663.3,408.0 668.4,421.8 670.2,427.9 658.1,428.7 652.9,430.5 637.4,420.1 623.6,427.9 620.1,428.7 611.5,425.3 604.6,411.5 601.1,401.1 595.9,392.5 590.8,378.7" fill="#2f8ac8" stroke="#2f8ac8" stroke-opacity="1" stroke-width="0.5"/>
<path d="M589.9 370.9 L595.1 376.1 L606.3 370.1 L618.4 362.3 L621.8 370.1 L627.9 389.0 L633.9 393.4 L640.8 390.8 L651.2 400.3 L663.3 408.0 L668.4 421.8 L670.2 427.9 L658.1 428.7 L652.9 430.5 L637.4 420.1 L623.6 427.9 L620.1 428.7 L611.5 425.3 L604.6 411.5 L601.1 401.1 L595.9 392.5 L590.8 378.7 L589.9 370.9" class="w"/>
<polygon points="621.8,432.2 623.6,427.9 637.4,420.1 652.9,430.5 644.3,433.9 630.5,440.8 627.0,447.7 616.7,450.0 613.2,444.3" fill="#2f8ac8" stroke="#2f8ac8" stroke-opacity="1" stroke-width="0.5"/>
<path d="M621.8 432.2 L623.6 427.9 L637.4 420.1 L652.9 430.5 L644.3 433.9 L630.5 440.8 L627.0 447.7 L616.7 450.0 L613.2 444.3 L621.8 432.2" class="w"/>
<polygon points="633.9,320.0 663.3,320.0 663.3,323.5 648.6,332.9 648.6,338.1 658.1,339.0 661.5,345.9 658.1,357.1 653.8,361.4 647.7,369.2 643.4,359.7 640.8,351.1 639.1,342.4 639.1,335.5 640.8,326.9" fill="#2f8ac8" stroke="#2f8ac8" stroke-opacity="1" stroke-width="0.5"/>
<path d="M663.3 320.0 L663.3 323.5 L648.6 332.9 L648.6 338.1 L658.1 339.0 L661.5 345.9 L658.1 357.1 L653.8 361.4 L647.7 369.2 L643.4 359.7 L640.8 351.1 L639.1 342.4 L639.1 335.5 L640.8 326.9 L633.9 320.0" class="w"/>
<polygon points="540.0,420.0 550.4,420.0 548.6,431.2 552.9,427.8 562.4,426.9 581.4,426.6 593.5,425.2 598.7,430.4 597.0,437.3 601.3,445.9 609.0,447.6 615.9,440.7 622.0,430.4 617.7,426.0 609.9,421.7 609.0,420.0" fill="#2f8ac8" stroke="#2f8ac8" stroke-opacity="1" stroke-width="0.5"/>
<path d="M550.4 420.0 L548.6 431.2 L552.9 427.8 L562.4 426.9 L581.4 426.6 L593.5 425.2 L598.7 430.4 L597.0 437.3 L601.3 445.9 L609.0 447.6 L615.9 440.7 L622.0 430.4 L617.7 426.0 L609.9 421.7 L609.0 420.0" class="w"/>
<polygon points="609.0,420.0 609.9,421.7 617.7,426.0 622.0,430.4 615.9,440.7 609.0,447.6 612.5,448.5 626.3,445.9 633.2,439.8 643.6,435.5 652.2,430.4 660.8,429.5 669.4,428.6 668.6,420.0" fill="#2f8ac8" stroke="#2f8ac8" stroke-opacity="1" stroke-width="0.5"/>
<path d="M609.0 420.0 L609.9 421.7 L617.7 426.0 L622.0 430.4 L615.9 440.7 L609.0 447.6 L612.5 448.5 L626.3 445.9 L633.2 439.8 L643.6 435.5 L652.2 430.4 L660.8 429.5 L669.4 428.6 L668.6 420.0" class="w"/>
<polygon points="577.1,445.9 581.4,441.6 586.6,447.6 590.1,445.9 589.2,451.1 581.4,459.4 575.4,455.4 572.8,451.1" fill="#2f8ac8" stroke="#2f8ac8" stroke-opacity="1" stroke-width="0.5"/>
<path d="M577.1 445.9 L581.4 441.6 L586.6 447.6 L590.1 445.9 L589.2 451.1 L581.4 459.4 L575.4 455.4 L572.8 451.1 L577.1 445.9" class="w"/>
<polygon points="660.0,406.3 667.8,416.7 669.5,428.7 660.0,428.7" fill="#2f8ac8" stroke="#2f8ac8" stroke-opacity="1" stroke-width="0.5"/>
<path d="M660.0 406.3 L667.8 416.7 L669.5 428.7 L660.0 428.7" class="w"/>
<polygon points="759.2,431.3 763.6,427.9 775.6,427.9 780.8,437.4 779.1,442.5 787.7,446.9 798.1,445.1 805.0,440.8 803.3,450.0 761.8,450.0 763.6,440.8" fill="#2f8ac8" stroke="#2f8ac8" stroke-opacity="1" stroke-width="0.5"/>
<path d="M759.2 431.3 L763.6 427.9 L775.6 427.9 L780.8 437.4 L779.1 442.5 L787.7 446.9 L798.1 445.1 L805.0 440.8 L803.3 450.0 M761.8 450.0 L763.6 440.8 L759.2 431.3" class="w"/>
<polygon points="786.9,339.0 791.2,332.9 798.1,328.6 808.4,332.1 820.0,327.8 814.3,336.4 820.3,344.2 823.8,350.2 816.9,351.9 806.5,353.7 802.2,356.2 797.9,353.7 795.3,345.9 791.0,345.9 786.7,341.6" fill="#2f8ac8" stroke="#2f8ac8" stroke-opacity="1" stroke-width="0.5"/>
<path d="M786.9 339.0 L791.2 332.9 L798.1 328.6 L808.4 332.1 L820.0 327.8 L814.3 336.4 L820.3 344.2 L823.8 350.2 L816.9 351.9 L806.5 353.7 L802.2 356.2 L797.9 353.7 L795.3 345.9 L791.0 345.9 L786.7 341.6 L786.9 339.0" class="w"/>
<polygon points="807.4,331.2 813.4,328.6 820.3,326.9 829.0,326.0 825.5,332.9 830.7,337.3 822.9,340.7 822.1,346.8 820.3,344.2 814.3,336.4" fill="#2f8ac8" stroke="#2f8ac8" stroke-opacity="1" stroke-width="0.5"/>
<path d="M807.4 331.2 L813.4 328.6 L820.3 326.9 L829.0 326.0 L825.5 332.9 L830.7 337.3 L822.9 340.7 L822.1 346.8 L820.3 344.2 L814.3 336.4 L807.4 331.2" class="w"/>
<polygon points="772.0,427.9 776.3,427.9 781.5,437.4 779.8,442.5 788.4,446.9 797.9,444.3 804.8,440.0 805.7,444.3 802.2,450.0 772.0,450.0" fill="#2f8ac8" stroke="#2f8ac8" stroke-opacity="1" stroke-width="0.5"/>
<path d="M772.0 427.9 L776.3 427.9 L781.5 437.4 L779.8 442.5 L788.4 446.9 L797.9 444.3 L804.8 440.0 L805.7 444.3 L802.2 450.0" class="w"/>
<polygon points="500.1,461.8 504.4,462.6 505.3,475.6 500.1,485.9 494.1,483.4 492.3,480.8 494.9,476.4 496.7,468.7" fill="#2f8ac8" stroke="#2f8ac8" stroke-opacity="1" stroke-width="0.5"/>
<path d="M500.1 461.8 L504.4 462.6 L505.3 475.6 L500.1 485.9 L494.1 483.4 L492.3 480.8 L494.9 476.4 L496.7 468.7 L500.1 461.8" class="w"/>
<polygon points="505.3,462.6 513.9,462.6 514.8,467.0 522.5,469.5 526.9,477.3 524.3,484.2 517.4,484.2 513.9,472.1 510.5,470.4 506.1,468.7" fill="#2f8ac8" stroke="#2f8ac8" stroke-opacity="1" stroke-width="0.5"/>
<path d="M505.3 462.6 L513.9 462.6 L514.8 467.0 L522.5 469.5 L526.9 477.3 L524.3 484.2 L517.4 484.2 L513.9 472.1 L510.5 470.4 L506.1 468.7 L505.3 462.6" class="w"/>
<polygon points="524.3,468.7 531.2,469.5 534.6,472.1 531.2,479.0 526.9,477.3" fill="#2f8ac8" stroke="#2f8ac8" stroke-opacity="1" stroke-width="0.5"/>
<path d="M524.3 468.7 L531.2 469.5 L534.6 472.1 L531.2 479.0 L526.9 477.3 L524.3 468.7" class="w"/>
<polygon points="512.2,492.0 529.4,491.5 524.3,494.6 526.9,497.2 540.7,493.7 545.0,492.5 548.4,492.8 550.2,484.2 555.3,485.9 557.3,488.2 557.3,492.5 564.2,494.2 568.5,497.7 571.9,495.9 577.1,496.8 573.7,502.8 575.4,516.7 572.8,523.6 562.4,532.2 562.1,532.3 563.0,540.1 560.4,545.2 563.9,553.9 564.7,562.5 557.0,568.5 550.1,574.6 546.6,571.1 540.6,566.8 535.4,568.5 527.6,562.5 521.6,555.6 517.3,545.2 517.3,533.1 521.6,526.2 523.3,519.3 520.7,517.3 501.8,517.4 505.3,510.1 508.7,504.9 519.1,499.7" fill="#2f8ac8" stroke="#2f8ac8" stroke-opacity="1" stroke-width="0.5"/>
<path d="M512.2 492.0 L529.4 491.5 L524.3 494.6 L526.9 497.2 L540.7 493.7 L545.0 492.5 L548.4 492.8 L550.2 484.2 L555.3 485.9 L557.3 488.2 L557.3 492.5 L564.2 494.2 L568.5 497.7 L571.9 495.9 L577.1 496.8 L573.7 502.8 L575.4 516.7 L572.8 523.6 L562.4 532.2 L562.1 532.3 L563.0 540.1 L560.4 545.2 L563.9 553.9 L564.7 562.5 L557.0 568.5 L550.1 574.6 L546.6 571.1 L540.6 566.8 L535.4 568.5 L527.6 562.5 L521.6 555.6 L517.3 545.2 L517.3 533.1 L521.6 526.2 L523.3 519.3 L520.7 517.3 L501.8 517.4 L505.3 510.1 L508.7 504.9 L519.1 499.7 L512.2 492.0" class="w"/>
<polygon points="674.6,463.1 683.3,460.6 687.6,464.9 685.8,473.5 683.3,478.7 671.2,483.9 664.3,488.2 657.4,494.2 647.0,502.0 641.8,501.1 641.0,494.2 645.3,489.0 647.9,483.9 651.3,473.5 659.1,468.3" fill="#2f8ac8" stroke="#2f8ac8" stroke-opacity="1" stroke-width="0.5"/>
<path d="M674.6 463.1 L683.3 460.6 L687.6 464.9 L685.8 473.5 L683.3 478.7 L671.2 483.9 L664.3 488.2 L657.4 494.2 L647.0 502.0 L641.8 501.1 L641.0 494.2 L645.3 489.0 L647.9 483.9 L651.3 473.5 L659.1 468.3 L674.6 463.1" class="w"/>
<polygon points="668.6,503.7 678.1,501.5 683.3,500.3 682.4,502.8 669.4,505.4" fill="#2f8ac8" stroke="#2f8ac8" stroke-opacity="1" stroke-width="0.5"/>
<path d="M668.6 503.7 L678.1 501.5 L683.3 500.3 L682.4 502.8 L669.4 505.4 L668.6 503.7" class="w"/>
<polygon points="759.0,429.5 775.4,427.8 778.0,432.1 780.6,437.3 779.7,442.4 788.4,448.5 797.9,441.6 804.8,438.1 805.6,443.3 793.6,453.7 786.7,459.7 778.0,463.1 772.0,461.4 769.4,468.3 765.9,458.8 763.4,452.8 759.0,451.9 760.8,445.9 764.2,442.4 761.6,433.8" fill="#2f8ac8" stroke="#2f8ac8" stroke-opacity="1" stroke-width="0.5"/>
<path d="M759.0 429.5 L775.4 427.8 L778.0 432.1 L780.6 437.3 L779.7 442.4 L788.4 448.5 L797.9 441.6 L804.8 438.1 L805.6 443.3 L793.6 453.7 L786.7 459.7 L778.0 463.1 L772.0 461.4 L769.4 468.3 L765.9 458.8 L763.4 452.8 L759.0 451.9 L760.8 445.9 L764.2 442.4 L761.6 433.8 L759.0 429.5" class="w"/>
<polygon points="711.6,487.3 714.2,480.4 721.9,477.8 736.6,478.7 739.2,476.1 743.5,483.9 748.7,486.4 758.2,482.1 761.6,484.7 759.9,492.5 748.7,493.4 741.8,488.2 731.4,486.4 721.1,491.6 717.6,495.9 715.9,502.8 712.4,495.9" fill="#2f8ac8" stroke="#2f8ac8" stroke-opacity="1" stroke-width="0.5"/>
<path d="M711.6 487.3 L714.2 480.4 L721.9 477.8 L736.6 478.7 L739.2 476.1 L743.5 483.9 L748.7 486.4 L758.2 482.1 L761.6 484.7 L759.9 492.5 L748.7 493.4 L741.8 488.2 L731.4 486.4 L721.1 491.6 L717.6 495.9 L715.9 502.8 L712.4 495.9 L711.6 487.3" class="w"/>
<polygon points="748.7,493.4 759.9,492.5 764.2,494.2 771.1,497.7 781.5,501.1 776.3,508.0 771.1,508.9 759.0,507.2 755.6,509.7 749.5,508.9 747.8,502.8" fill="#2f8ac8" stroke="#2f8ac8" stroke-opacity="1" stroke-width="0.5"/>
<path d="M748.7 493.4 L759.9 492.5 L764.2 494.2 L771.1 497.7 L781.5 501.1 L776.3 508.0 L771.1 508.9 L759.0 507.2 L755.6 509.7 L749.5 508.9 L747.8 502.8 L748.7 493.4" class="w"/>
<polygon points="715.9,537.7 730.6,534.3 733.1,528.2 741.8,524.8 743.8,527.0 753.9,528.4 754.7,530.5 759.0,533.9 755.6,539.1 749.5,544.3 747.0,540.8 735.7,539.1 734.9,544.3 729.7,550.0 710.7,550.0 706.4,544.3" fill="#2f8ac8" stroke="#2f8ac8" stroke-opacity="1" stroke-width="0.5"/>
<path d="M715.9 537.7 L730.6 534.3 L733.1 528.2 L741.8 524.8 L743.8 527.0 L753.9 528.4 L754.7 530.5 L759.0 533.9 L755.6 539.1 L749.5 544.3 L747.0 540.8 L735.7 539.1 L734.9 544.3 L729.7 550.0 M710.7 550.0 L706.4 544.3 L715.9 537.7" class="w"/>
<polygon points="707.7,544.4 714.6,537.5 726.7,534.0 733.6,530.6 737.0,526.2 742.2,527.1 743.9,530.6 747.4,528.8 758.6,530.6 761.2,531.4 754.3,538.3 749.1,541.8 743.9,540.1 735.3,540.9 739.6,543.5 733.6,552.1 729.2,558.2 724.1,557.3 719.7,556.4 712.0,553.0" fill="#2f8ac8" stroke="#2f8ac8" stroke-opacity="1" stroke-width="0.5"/>
<path d="M707.7 544.4 L714.6 537.5 L726.7 534.0 L733.6 530.6 L737.0 526.2 L742.2 527.1 L743.9 530.6 L747.4 528.8 L758.6 530.6 L761.2 531.4 L754.3 538.3 L749.1 541.8 L743.9 540.1 L735.3 540.9 L739.6 543.5 L733.6 552.1 L729.2 558.2 L724.1 557.3 L719.7 556.4 L712.0 553.0 L707.7 544.4" class="w"/>
<polygon points="748.2,502.9 749.1,495.2 759.4,492.6 768.1,496.9 780.2,502.9 769.8,512.4 762.9,509.0 757.7,507.3 750.8,509.8 748.2,508.1" fill="#2f8ac8" stroke="#2f8ac8" stroke-opacity="1" stroke-width="0.5"/>
<path d="M748.2 502.9 L749.1 495.2 L759.4 492.6 L768.1 496.9 L780.2 502.9 L769.8 512.4 L762.9 509.0 L757.7 507.3 L750.8 509.8 L748.2 508.1 L748.2 502.9" class="w"/>
<polygon points="640.4,490.0 662.8,490.0 660.2,496.0 647.3,502.1 641.2,499.5" fill="#2f8ac8" stroke="#2f8ac8" stroke-opacity="1" stroke-width="0.5"/>
<path d="M662.8 490.0 L660.2 496.0 L647.3 502.1 L641.2 499.5 L640.4 490.0" class="w"/>
<polygon points="667.1,502.9 681.8,499.5 682.6,502.1 668.0,506.4" fill="#2f8ac8" stroke="#2f8ac8" stroke-opacity="1" stroke-width="0.5"/>
<path d="M667.1 502.9 L681.8 499.5 L682.6 502.1 L668.0 506.4 L667.1 502.9" class="w"/>
<polygon points="577.8,228.8 570.1,238.3 565.7,239.2 564.0,235.7 551.1,240.1 554.5,250.4 554.5,259.0 570.1,260.4 580.4,261.6 582.1,247.8 585.2,241.8 583.0,234.9" fill="#1d769b" stroke="#1d769b" stroke-opacity="1" stroke-width="0.5"/>
<path d="M577.8 228.8 L570.1 238.3 L565.7 239.2 L564.0 235.7 L551.1 240.1 L554.5 250.4 L554.5 259.0 L570.1 260.4 L580.4 261.6 L582.1 247.8 L585.2 241.8 L583.0 234.9 L577.8 228.8" class="w"/>
<polygon points="591.6,270.3 595.9,272.8 603.7,278.0 604.6,283.2 597.7,290.1 600.3,294.4 609.7,294.4 616.7,297.9 630.5,305.6 629.6,312.5 616.7,317.7 601.1,314.3 592.5,313.4 583.9,309.1 574.4,304.8 577.8,300.5 576.1,293.6 579.5,290.1 589.0,286.7 586.4,281.5 587.3,276.3" fill="#1d769b" stroke="#1d769b" stroke-opacity="1" stroke-width="0.5"/>
<path d="M591.6 270.3 L595.9 272.8 L603.7 278.0 L604.6 283.2 L597.7 290.1 L600.3 294.4 L609.7 294.4 L616.7 297.9 L630.5 305.6 L629.6 312.5 L616.7 317.7 L601.1 314.3 L592.5 313.4 L583.9 309.1 L574.4 304.8 L577.8 300.5 L576.1 293.6 L579.5 290.1 L589.0 286.7 L586.4 281.5 L587.3 276.3 L591.6 270.3" class="w"/>
<polygon points="555.4,304.8 565.7,301.8 570.1,305.6 576.1,307.4 575.2,310.0 566.6,310.8 562.3,313.4" fill="#1d769b" stroke="#1d769b" stroke-opacity="1" stroke-width="0.5"/>
<path d="M555.4 304.8 L565.7 301.8 L570.1 305.6 L576.1 307.4 L575.2 310.0 L566.6 310.8 L562.3 313.4 L555.4 304.8" class="w"/>
<polygon points="625.3,225.4 666.0,228.0 666.0,233.1 662.6,241.8 660.0,250.4 662.4,249.5 657.2,253.9 653.8,254.7 649.4,256.4 641.7,250.4 639.1,245.2 630.5,238.3 624.4,231.4" fill="#1d769b" stroke="#1d769b" stroke-opacity="1" stroke-width="0.5"/>
<path d="M625.3 225.4 L666.0 228.0 L666.0 233.1 L662.6 241.8 L660.0 250.4 L662.4 249.5 L657.2 253.9 L653.8 254.7 L649.4 256.4 L641.7 250.4 L639.1 245.2 L630.5 238.3 L624.4 231.4 L625.3 225.4" class="w"/>
<polygon points="629.6,239.2 625.3,248.7 614.1,256.4 614.1,259.0 620.1,264.2 624.4,260.8 633.0,258.2 639.1,256.4 640.8,248.7 639.1,245.2" fill="#1d769b" stroke="#1d769b" stroke-opacity="1" stroke-width="0.5"/>
<path d="M629.6 239.2 L625.3 248.7 L614.1 256.4 L614.1 259.0 L620.1 264.2 L624.4 260.8 L633.0 258.2 L639.1 256.4 L640.8 248.7 L639.1 245.2 L629.6 239.2" class="w"/>
<polygon points="641.7,251.3 649.4,256.4 657.2,254.7 656.3,262.5 652.9,271.1 648.6,267.7" fill="#1d769b" stroke="#1d769b" stroke-opacity="1" stroke-width="0.5"/>
<path d="M641.7 251.3 L649.4 256.4 L657.2 254.7 L656.3 262.5 L652.9 271.1 L648.6 267.7 L641.7 251.3" class="w"/>
<polygon points="701.4,230.9 723.9,232.6 715.2,239.2 709.2,241.8 703.1,250.4 703.1,258.2 693.7,259.9 685.9,264.2 679.0,262.5 660.0,254.7 660.0,250.4 679.0,250.4 682.4,247.8 696.2,247.0 697.1,240.1 700.6,237.5" fill="#1d769b" stroke="#1d769b" stroke-opacity="1" stroke-width="0.5"/>
<path d="M701.4 230.9 L723.9 232.6 L715.2 239.2 L709.2 241.8 L703.1 250.4 L703.1 258.2 L693.7 259.9 L685.9 264.2 L679.0 262.5 L660.0 254.7 M660.0 250.4 L679.0 250.4 L682.4 247.8 L696.2 247.0 L697.1 240.1 L700.6 237.5 L701.4 230.9" class="w"/>
<polygon points="660.0,259.0 670.4,262.5 679.0,267.7 678.1,272.8 672.1,278.0 660.0,279.7 658.1,278.9 652.9,271.1 656.3,262.5 658.1,259.0" fill="#1d769b" stroke="#1d769b" stroke-opacity="1" stroke-width="0.5"/>
<path d="M660.0 259.0 L670.4 262.5 L679.0 267.7 L678.1 272.8 L672.1 278.0 L660.0 279.7 L658.1 278.9 L652.9 271.1 L656.3 262.5 L658.1 259.0 L660.0 259.0" class="w"/>
<polygon points="767.0,235.7 782.5,236.6 783.4,241.8 784.3,249.5 789.4,253.0 788.6,257.3 784.3,259.9 772.2,263.4 760.1,264.6 753.2,262.5 750.6,255.6 751.5,250.4 761.8,241.8" fill="#1d769b" stroke="#1d769b" stroke-opacity="1" stroke-width="0.5"/>
<path d="M767.0 235.7 L782.5 236.6 L783.4 241.8 L784.3 249.5 L789.4 253.0 L788.6 257.3 L784.3 259.9 L772.2 263.4 L760.1 264.6 L753.2 262.5 L750.6 255.6 L751.5 250.4 L761.8 241.8 L767.0 235.7" class="w"/>
<polygon points="744.6,282.3 735.9,290.1 717.0,301.3 705.7,302.2 694.5,306.5 685.9,307.4 683.3,300.5 670.4,290.1 682.4,274.6 694.5,268.5 703.1,268.5 715.2,272.8 723.9,272.0" fill="#1d769b" stroke="#1d769b" stroke-opacity="1" stroke-width="0.5"/>
<path d="M744.6 282.3 L735.9 290.1 L717.0 301.3 L705.7 302.2 L694.5 306.5 L685.9 307.4 L683.3 300.5 L670.4 290.1 L682.4 274.6 L694.5 268.5 L703.1 268.5 L715.2 272.8 L723.9 272.0 L744.6 282.3" class="w"/>
<polygon points="468.0,441.7 474.1,440.8 479.2,442.5 488.7,433.0 490.5,444.3 490.5,450.0 469.7,450.0" fill="#1d769b" stroke="#1d769b" stroke-opacity="1" stroke-width="0.5"/>
<path d="M468.0 441.7 L474.1 440.8 L479.2 442.5 L488.7 433.0 L490.5 444.3 L490.5 450.0 M469.7 450.0 L468.0 441.7" class="w"/>
<polygon points="621.8,320.1 627.2,319.2 631.8,315.2 634.1,321.8 628.7,326.9 625.3,337.3 619.2,351.1 613.2,351.9 605.4,343.3 609.7,339.0 613.2,331.2 619.2,324.3" fill="#1d769b" stroke="#1d769b" stroke-opacity="1" stroke-width="0.5"/>
<path d="M621.8 320.1 L627.2 319.2 L631.8 315.2 L634.1 321.8 L628.7 326.9 L625.3 337.3 L619.2 351.1 L613.2 351.9 L605.4 343.3 L609.7 339.0 L613.2 331.2 L619.2 324.3 L621.8 320.1" class="w"/>
<polygon points="663.3,323.5 670.2,320.0 680.0,320.0 676.4,320.0 679.8,326.0 691.9,330.4 677.3,336.4 666.9,339.8 663.5,344.2 660.0,339.8 666.7,339.0 663.3,343.3 661.5,339.8 658.1,338.6 648.6,338.1 648.6,332.9" fill="#1d769b" stroke="#1d769b" stroke-opacity="1" stroke-width="0.5"/>
<path d="M663.3 323.5 L670.2 320.0 M680.0 320.0 L676.4 320.0 L679.8 326.0 L691.9 330.4 L677.3 336.4 L666.9 339.8 L663.5 344.2 L660.0 339.8 L666.7 339.0 L663.3 343.3 L661.5 339.8 L658.1 338.6 L648.6 338.1 L648.6 332.9 L663.3 323.5" class="w"/>
<polygon points="548.6,431.2 552.9,427.8 562.4,426.9 581.4,426.6 584.0,430.4 583.1,435.5 577.1,436.4 565.9,434.7 555.5,435.5 549.5,435.5" fill="#1d769b" stroke="#1d769b" stroke-opacity="1" stroke-width="0.5"/>
<path d="M548.6 431.2 L552.9 427.8 L562.4 426.9 L581.4 426.6 L584.0 430.4 L583.1 435.5 L577.1 436.4 L565.9 434.7 L555.5 435.5 L549.5 435.5 L548.6 431.2" class="w"/>
<polygon points="581.4,436.4 585.2,435.9 590.1,445.0 586.6,446.8 582.3,440.7" fill="#1d769b" stroke="#1d769b" stroke-opacity="1" stroke-width="0.5"/>
<path d="M581.4 436.4 L585.2 435.9 L590.1 445.0 L586.6 446.8 L582.3 440.7 L581.4 436.4" class="w"/>
<polygon points="668.6,439.1 673.8,433.9 682.4,439.1 689.3,444.3 693.7,450.0 692.7,447.6 690.2,451.1 678.1,453.7 668.6,451.9 668.6,444.2 669.4,437.3 674.6,432.9 668.6,440.8" fill="#1d769b" stroke="#1d769b" stroke-opacity="1" stroke-width="0.5"/>
<path d="M668.6 439.1 L673.8 433.9 L682.4 439.1 L689.3 444.3 L693.7 450.0 L692.7 447.6 L690.2 451.1 L678.1 453.7 L668.6 451.9 L668.6 444.2 L669.4 437.3 L674.6 432.9 L668.6 440.8 L668.6 439.1" class="w"/>
<polygon points="669.4,437.3 674.6,432.9 683.3,439.8 690.2,442.4 692.7,447.6 690.2,451.1 678.1,453.7 668.6,451.9 668.6,444.2" fill="#1d769b" stroke="#1d769b" stroke-opacity="1" stroke-width="0.5"/>
<path d="M669.4 437.3 L674.6 432.9 L683.3 439.8 L690.2 442.4 L692.7 447.6 L690.2 451.1 L678.1 453.7 L668.6 451.9 L668.6 444.2 L669.4 437.3" class="w"/>
<polygon points="746.3,404.9 788.6,408.9 790.3,416.7 798.9,421.8 796.3,427.9 784.3,435.6 780.8,437.4 775.6,427.9 763.6,427.9 758.4,430.5 750.6,426.1 749.7,418.4 748.0,411.5" fill="#1d769b" stroke="#1d769b" stroke-opacity="1" stroke-width="0.5"/>
<path d="M746.3 404.9 L788.6 408.9 L790.3 416.7 L798.9 421.8 L796.3 427.9 L784.3 435.6 L780.8 437.4 L775.6 427.9 L763.6 427.9 L758.4 430.5 L750.6 426.1 L749.7 418.4 L748.0 411.5 L746.3 404.9" class="w"/>
<polygon points="772.0,405.4 789.3,408.9 791.0,415.8 798.8,421.8 797.0,427.0 784.9,434.8 781.5,437.4 776.3,427.9 772.0,427.9" fill="#1d769b" stroke="#1d769b" stroke-opacity="1" stroke-width="0.5"/>
<path d="M772.0 405.4 L789.3 408.9 L791.0 415.8 L798.8 421.8 L797.0 427.0 L784.9 434.8 L781.5 437.4 L776.3 427.9 L772.0 427.9" class="w"/>
<polygon points="749.5,420.0 798.7,420.0 797.9,426.0 785.8,433.8 780.6,437.3 778.0,432.1 775.4,427.8 759.0,429.5 751.3,426.0" fill="#1d769b" stroke="#1d769b" stroke-opacity="1" stroke-width="0.5"/>
<path d="M798.7 420.0 L797.9 426.0 L785.8 433.8 L780.6 437.3 L778.0 432.1 L775.4 427.8 L759.0 429.5 L751.3 426.0 L749.5 420.0" class="w"/>
<polygon points="802.2,450.0 805.7,444.3 815.1,436.5 818.6,438.2 817.7,444.3 813.4,450.0" fill="#1d769b" stroke="#1d769b" stroke-opacity="1" stroke-width="0.5"/>
<path d="M802.2 450.0 L805.7 444.3 L815.1 436.5 L818.6 438.2 L817.7 444.3 L813.4 450.0" class="w"/>
<polygon points="804.8,438.1 810.8,436.4 816.9,435.5 819.4,439.0 814.3,449.3 811.7,457.1 819.4,460.6 810.8,466.6 805.6,478.7 800.5,492.5 795.3,496.8 788.4,495.9 785.8,490.8 789.2,484.7 791.8,470.1 793.6,453.7 805.6,443.3" fill="#1d769b" stroke="#1d769b" stroke-opacity="1" stroke-width="0.5"/>
<path d="M804.8 438.1 L810.8 436.4 L816.9 435.5 L819.4 439.0 L814.3 449.3 L811.7 457.1 L819.4 460.6 L810.8 466.6 L805.6 478.7 L800.5 492.5 L795.3 496.8 L788.4 495.9 L785.8 490.8 L789.2 484.7 L791.8 470.1 L793.6 453.7 L805.6 443.3 L804.8 438.1" class="w"/>
<polygon points="489.7,432.4 490.6,447.1 487.2,451.4 475.9,460.1 470.8,454.9 467.3,441.9 471.6,440.2 478.5,442.8 481.1,436.8" fill="#1d769b" stroke="#1d769b" stroke-opacity="1" stroke-width="0.5"/>
<path d="M489.7 432.4 L490.6 447.1 L487.2 451.4 L475.9 460.1 L470.8 454.9 L467.3 441.9 L471.6 440.2 L478.5 442.8 L481.1 436.8 L489.7 432.4" class="w"/>
<polygon points="491.5,446.1 503.3,446.1 501.2,454.7 498.5,462.3 496.3,468.7 495.3,473.0 494.2,477.3 492.0,480.5 489.9,482.2 486.1,478.4 484.5,473.0 493.1,472.5 494.2,466.6 492.6,459.0 492.0,451.5" fill="#1d769b" stroke="#1d769b" stroke-opacity="1" stroke-width="0.5"/>
<path d="M491.5 446.1 L503.3 446.1 L501.2 454.7 L498.5 462.3 L496.3 468.7 L495.3 473.0 L494.2 477.3 L492.0 480.5 L489.9 482.2 L486.1 478.4 L484.5 473.0 L493.1 472.5 L494.2 466.6 L492.6 459.0 L492.0 451.5 L491.5 446.1" class="w"/>
<polygon points="517.4,449.7 523.4,453.1 521.7,460.1 524.3,467.8 519.1,467.0 514.8,461.8 507.9,461.8 510.5,455.7" fill="#1d769b" stroke="#1d769b" stroke-opacity="1" stroke-width="0.5"/>
<path d="M517.4 449.7 L523.4 453.1 L521.7 460.1 L524.3 467.8 L519.1 467.0 L514.8 461.8 L507.9 461.8 L510.5 455.7 L517.4 449.7" class="w"/>
<polygon points="523.4,456.6 527.7,460.1 533.8,458.3 538.1,462.6 548.4,462.6 549.3,467.0 543.3,467.8 540.7,471.3 531.2,469.5 524.3,467.8 521.7,460.1" fill="#1d769b" stroke="#1d769b" stroke-opacity="1" stroke-width="0.5"/>
<path d="M523.4 456.6 L527.7 460.1 L533.8 458.3 L538.1 462.6 L548.4 462.6 L549.3 467.0 L543.3 467.8 L540.7 471.3 L531.2 469.5 L524.3 467.8 L521.7 460.1 L523.4 456.6" class="w"/>
<polygon points="505.3,476.4 507.9,477.3 512.2,483.4 512.2,491.1 505.3,490.3 500.1,485.9" fill="#1d769b" stroke="#1d769b" stroke-opacity="1" stroke-width="0.5"/>
<path d="M505.3 476.4 L507.9 477.3 L512.2 483.4 L512.2 491.1 L505.3 490.3 L500.1 485.9 L505.3 476.4" class="w"/>
<polygon points="512.2,485.1 524.3,484.6 527.7,479.0 533.8,478.2 529.4,491.1 513.0,492.0" fill="#1d769b" stroke="#1d769b" stroke-opacity="1" stroke-width="0.5"/>
<path d="M512.2 485.1 L524.3 484.6 L527.7 479.0 L533.8 478.2 L529.4 491.1 L513.0 492.0 L512.2 485.1" class="w"/>
<polygon points="538.1,485.9 541.5,483.4 544.1,487.7 543.3,494.6 540.7,493.7" fill="#1d769b" stroke="#1d769b" stroke-opacity="1" stroke-width="0.5"/>
<path d="M538.1 485.9 L541.5 483.4 L544.1 487.7 L543.3 494.6 L540.7 493.7 L538.1 485.9" class="w"/>
<polygon points="489.7,482.5 494.1,484.2 500.1,486.8 505.3,490.8 512.2,492.0 519.1,499.7 508.7,504.9 505.3,510.1 501.8,517.4 474.2,516.1 471.6,508.4 475.9,506.7 482.8,496.3" fill="#1d769b" stroke="#1d769b" stroke-opacity="1" stroke-width="0.5"/>
<path d="M489.7 482.5 L494.1 484.2 L500.1 486.8 L505.3 490.8 L512.2 492.0 L519.1 499.7 L508.7 504.9 L505.3 510.1 L501.8 517.4 L474.2 516.1 L471.6 508.4 L475.9 506.7 L482.8 496.3 L489.7 482.5" class="w"/>
<polygon points="540.0,463.1 548.6,463.1 549.5,468.3 540.0,471.8" fill="#1d769b" stroke="#1d769b" stroke-opacity="1" stroke-width="0.5"/>
<path d="M540.0 463.1 L548.6 463.1 L549.5 468.3 L540.0 471.8" class="w"/>
<polygon points="540.0,483.0 542.6,484.7 544.3,492.5 540.0,494.2" fill="#1d769b" stroke="#1d769b" stroke-opacity="1" stroke-width="0.5"/>
<path d="M540.0 483.0 L542.6 484.7 L544.3 492.5 L540.0 494.2" class="w"/>
<polygon points="683.3,478.7 685.0,484.7 681.5,496.8 678.1,501.1 668.6,502.8 666.9,495.9 665.1,489.0 671.2,483.9" fill="#1d769b" stroke="#1d769b" stroke-opacity="1" stroke-width="0.5"/>
<path d="M683.3 478.7 L685.0 484.7 L681.5 496.8 L678.1 501.1 L668.6 502.8 L666.9 495.9 L665.1 489.0 L671.2 483.9 L683.3 478.7" class="w"/>
<polygon points="664.3,488.2 665.1,489.0 666.9,495.9 668.6,502.8 667.7,506.3 652.2,513.2 643.6,516.7 647.9,509.7 647.0,502.8 657.4,494.2" fill="#1d769b" stroke="#1d769b" stroke-opacity="1" stroke-width="0.5"/>
<path d="M664.3 488.2 L665.1 489.0 L666.9 495.9 L668.6 502.8 L667.7 506.3 L652.2 513.2 L643.6 516.7 L647.9 509.7 L647.0 502.8 L657.4 494.2 L664.3 488.2" class="w"/>
<polygon points="668.6,506.3 678.1,502.8 686.7,502.0 687.6,506.3 676.3,511.5 667.7,518.4 665.1,525.3 659.1,523.2 653.9,526.7 648.7,520.1 652.2,513.2" fill="#1d769b" stroke="#1d769b" stroke-opacity="1" stroke-width="0.5"/>
<path d="M668.6 506.3 L678.1 502.8 L686.7 502.0 L687.6 506.3 L676.3 511.5 L667.7 518.4 L665.1 525.3 L659.1 523.2 L653.9 526.7 L648.7 520.1 L652.2 513.2 L668.6 506.3" class="w"/>
<polygon points="667.7,518.4 676.3,511.5 687.6,507.2 691.9,518.4 692.7,528.7 700.0,530.5 700.0,550.0 669.4,550.0 668.6,540.8 665.1,525.3" fill="#1d769b" stroke="#1d769b" stroke-opacity="1" stroke-width="0.5"/>
<path d="M667.7 518.4 L676.3 511.5 L687.6 507.2 L691.9 518.4 L692.7 528.7 L700.0 530.5 M669.4 550.0 L668.6 540.8 L665.1 525.3 L667.7 518.4" class="w"/>
<polygon points="699.5,520.1 710.7,514.9 715.0,513.2 722.8,514.6 726.2,511.1 731.4,516.3 735.7,514.6 738.3,506.6 747.0,503.2 749.5,508.9 743.5,516.7 741.8,523.6 733.1,527.9 730.6,533.9 715.9,537.4 713.3,530.5 707.3,526.1 702.1,527.0" fill="#1d769b" stroke="#1d769b" stroke-opacity="1" stroke-width="0.5"/>
<path d="M699.5 520.1 L710.7 514.9 L715.0 513.2 L722.8 514.6 L726.2 511.1 L731.4 516.3 L735.7 514.6 L738.3 506.6 L747.0 503.2 L749.5 508.9 L743.5 516.7 L741.8 523.6 L733.1 527.9 L730.6 533.9 L715.9 537.4 L713.3 530.5 L707.3 526.1 L702.1 527.0 L699.5 520.1" class="w"/>
<polygon points="749.5,508.9 755.6,509.7 759.0,507.2 771.1,508.9 769.4,513.2 764.2,520.1 753.9,527.9 743.5,526.1 741.8,523.6 743.5,516.7" fill="#1d769b" stroke="#1d769b" stroke-opacity="1" stroke-width="0.5"/>
<path d="M749.5 508.9 L755.6 509.7 L759.0 507.2 L771.1 508.9 L769.4 513.2 L764.2 520.1 L753.9 527.9 L743.5 526.1 L741.8 523.6 L743.5 516.7 L749.5 508.9" class="w"/>
<polygon points="690.0,532.2 702.1,527.9 707.3,526.1 713.3,530.5 715.9,537.4 706.4,544.3 700.4,550.0 690.0,550.0" fill="#1d769b" stroke="#1d769b" stroke-opacity="1" stroke-width="0.5"/>
<path d="M690.0 532.2 L702.1 527.9 L707.3 526.1 L713.3 530.5 L715.9 537.4 L706.4 544.3 L700.4 550.0" class="w"/>
<polygon points="739.6,570.3 743.0,581.5 746.5,587.5 746.5,591.0 740.5,589.2 733.6,589.2 728.4,580.6 733.6,578.0" fill="#1d769b" stroke="#1d769b" stroke-opacity="1" stroke-width="0.5"/>
<path d="M739.6 570.3 L743.0 581.5 L746.5 587.5 L746.5 591.0 L740.5 589.2 L733.6 589.2 L728.4 580.6 L733.6 578.0 L739.6 570.3" class="w"/>
<polygon points="683.5,531.4 693.9,530.0 702.5,530.9 705.9,525.7 712.8,530.9 714.6,537.5 707.7,544.4 699.0,549.5 690.4,551.3 682.6,550.4 681.8,540.1" fill="#1d769b" stroke="#1d769b" stroke-opacity="1" stroke-width="0.5"/>
<path d="M683.5 531.4 L693.9 530.0 L702.5 530.9 L705.9 525.7 L712.8 530.9 L714.6 537.5 L707.7 544.4 L699.0 549.5 L690.4 551.3 L682.6 550.4 L681.8 540.1 L683.5 531.4" class="w"/>
<polygon points="667.1,517.6 673.1,514.2 685.2,509.0 687.8,511.6 692.1,518.5 691.3,528.8 683.5,531.4 681.8,540.1 681.8,550.4 675.7,549.5 668.8,549.5 669.7,541.8 666.2,533.1 667.1,524.5" fill="#1d769b" stroke="#1d769b" stroke-opacity="1" stroke-width="0.5"/>
<path d="M667.1 517.6 L673.1 514.2 L685.2 509.0 L687.8 511.6 L692.1 518.5 L691.3 528.8 L683.5 531.4 L681.8 540.1 L681.8 550.4 L675.7 549.5 L668.8 549.5 L669.7 541.8 L666.2 533.1 L667.1 524.5 L667.1 517.6" class="w"/>
<polygon points="649.8,518.5 653.3,513.3 667.1,508.1 681.8,502.1 685.2,502.1 687.0,507.3 673.1,514.2 667.1,517.6 665.4,525.4 661.9,523.7 655.9,526.2 651.6,521.9" fill="#1d769b" stroke="#1d769b" stroke-opacity="1" stroke-width="0.5"/>
<path d="M649.8 518.5 L653.3 513.3 L667.1 508.1 L681.8 502.1 L685.2 502.1 L687.0 507.3 L673.1 514.2 L667.1 517.6 L665.4 525.4 L661.9 523.7 L655.9 526.2 L651.6 521.9 L649.8 518.5" class="w"/>
<polygon points="642.9,516.8 648.1,509.0 647.3,502.1 660.2,496.0 664.5,490.0 666.2,500.4 667.1,506.4 653.3,513.3 649.8,518.5" fill="#1d769b" stroke="#1d769b" stroke-opacity="1" stroke-width="0.5"/>
<path d="M642.9 516.8 L648.1 509.0 L647.3 502.1 L660.2 496.0 L664.5 490.0 L666.2 500.4 L667.1 506.4 L653.3 513.3 L649.8 518.5 L642.9 516.8" class="w"/>
<polygon points="664.5,490.0 679.2,490.0 681.8,495.2 679.2,498.6 667.1,502.1 666.2,500.4" fill="#1d769b" stroke="#1d769b" stroke-opacity="1" stroke-width="0.5"/>
<path d="M679.2 490.0 L681.8 495.2 L679.2 498.6 L667.1 502.1 L666.2 500.4 L664.5 490.0" class="w"/>
<polygon points="667.1,502.9 681.8,499.5 682.6,502.1 668.0,506.4" fill="#2f8ac8" stroke="#2f8ac8" stroke-opacity="1" stroke-width="0.5"/>
<path d="M667.1 502.9 L681.8 499.5 L682.6 502.1 L668.0 506.4 L667.1 502.9" class="w"/>
<polygon points="658.1,255.6 663.3,253.9 680.0,262.5 679.0,262.5 685.9,264.2 693.7,259.9 703.1,258.2 703.1,268.5 694.5,268.5 682.4,274.6 679.0,272.8 679.0,267.7 670.4,262.5 680.0,266.8 670.2,263.4 659.8,259.0" fill="#7fcdbb" stroke="#7fcdbb" stroke-opacity="1" stroke-width="0.5"/>
<path d="M658.1 255.6 L663.3 253.9 L680.0 262.5 L679.0 262.5 L685.9 264.2 L693.7 259.9 L703.1 258.2 M703.1 268.5 L694.5 268.5 L682.4 274.6 L679.0 272.8 L679.0 267.7 L670.4 262.5 L680.0 266.8 L670.2 263.4 L659.8 259.0 L658.1 255.6" class="w"/>
<polygon points="506.1,469.0 510.5,470.4 513.9,473.0 515.6,482.5 512.2,482.5 507.9,476.4" fill="#7fcdbb" stroke="#7fcdbb" stroke-opacity="1" stroke-width="0.5"/>
<path d="M506.1 469.0 L510.5 470.4 L513.9 473.0 L515.6 482.5 L512.2 482.5 L507.9 476.4 L506.1 469.0" class="w"/>
<polygon points="597.0,438.1 604.7,440.7 601.3,446.8 603.0,449.3 593.5,458.8 586.6,465.7 581.4,460.6 589.2,451.1 590.9,445.0" fill="#7fcdbb" stroke="#7fcdbb" stroke-opacity="1" stroke-width="0.5"/>
<path d="M597.0 438.1 L604.7 440.7 L601.3 446.8 L603.0 449.3 L593.5 458.8 L586.6 465.7 L581.4 460.6 L589.2 451.1 L590.9 445.0 L597.0 438.1" class="w"/>
<polygon points="534.6,472.1 540.7,471.3 543.3,467.8 549.3,467.8 551.9,468.7 557.1,482.5 555.3,485.9 550.2,484.2 548.4,492.8 545.0,492.0 544.1,487.7 541.5,483.4 536.3,478.2" fill="#7fcdbb" stroke="#7fcdbb" stroke-opacity="1" stroke-width="0.5"/>
<path d="M534.6 472.1 L540.7 471.3 L543.3 467.8 L549.3 467.8 L551.9 468.7 L557.1 482.5 L555.3 485.9 L550.2 484.2 L548.4 492.8 L545.0 492.0 L544.1 487.7 L541.5 483.4 L536.3 478.2 L534.6 472.1" class="w"/>
<polygon points="491.5,420.4 532.9,419.5 532.9,427.3 527.7,434.2 548.4,432.4 550.2,441.1 560.0,440.2 560.0,451.4 546.7,456.6 541.5,453.1 527.7,450.6 523.4,453.1 517.4,449.7 509.6,455.7 503.6,446.2 493.2,445.4 490.6,447.1 489.7,432.4" fill="#7fcdbb" stroke="#7fcdbb" stroke-opacity="1" stroke-width="0.5"/>
<path d="M491.5 420.4 L532.9 419.5 L532.9 427.3 L527.7 434.2 L548.4 432.4 L550.2 441.1 L560.0 440.2 M560.0 451.4 L546.7 456.6 L541.5 453.1 L527.7 450.6 L523.4 453.1 L517.4 449.7 L509.6 455.7 L503.6 446.2 L493.2 445.4 L490.6 447.1 L489.7 432.4 L491.5 420.4" class="w"/>
<polygon points="540.0,432.1 548.6,431.7 549.5,435.9 555.5,435.9 565.9,435.0 577.1,436.7 581.4,436.7 582.3,440.7 577.1,445.9 572.8,451.1 571.9,447.6 562.4,450.2 547.8,453.7 546.9,457.1 540.0,454.5" fill="#7fcdbb" stroke="#7fcdbb" stroke-opacity="1" stroke-width="0.5"/>
<path d="M540.0 432.1 L548.6 431.7 L549.5 435.9 L555.5 435.9 L565.9 435.0 L577.1 436.7 L581.4 436.7 L582.3 440.7 L577.1 445.9 L572.8 451.1 L571.9 447.6 L562.4 450.2 L547.8 453.7 L546.9 457.1 L540.0 454.5" class="w"/>
<polygon points="540.0,471.8 549.5,468.3 552.9,470.1 556.4,478.7 559.8,485.6 557.3,488.2 551.2,483.9 548.6,488.2 546.0,494.2 543.5,485.6 540.0,482.1" fill="#7fcdbb" stroke="#7fcdbb" stroke-opacity="1" stroke-width="0.5"/>
<path d="M540.0 471.8 L549.5 468.3 L552.9 470.1 L556.4 478.7 L559.8 485.6 L557.3 488.2 L551.2 483.9 L548.6 488.2 L546.0 494.2 L543.5 485.6 L540.0 482.1" class="w"/>
<polygon points="563.3,484.7 567.6,474.4 574.5,471.8 580.6,477.8 581.4,483.9 577.1,485.6 571.9,495.9 568.5,497.7 564.2,494.2 557.3,492.5 559.8,485.6" fill="#7fcdbb" stroke="#7fcdbb" stroke-opacity="1" stroke-width="0.5"/>
<path d="M563.3 484.7 L567.6 474.4 L574.5 471.8 L580.6 477.8 L581.4 483.9 L577.1 485.6 L571.9 495.9 L568.5 497.7 L564.2 494.2 L557.3 492.5 L559.8 485.6 L563.3 484.7" class="w"/>
<polygon points="681.8,490.0 712.8,490.0 716.3,496.9 713.7,509.0 710.3,515.0 699.0,520.2 692.1,518.5 687.8,511.6 685.2,502.1 679.2,498.6" fill="#7fcdbb" stroke="#7fcdbb" stroke-opacity="1" stroke-width="0.5"/>
<path d="M712.8 490.0 L716.3 496.9 L713.7 509.0 L710.3 515.0 L699.0 520.2 L692.1 518.5 L687.8 511.6 L685.2 502.1 L679.2 498.6 L681.8 490.0" class="w"/>
<polygon points="677.3,320.0 701.4,320.0 695.4,327.8 691.9,330.0 679.8,326.0" fill="#7fcdbb" stroke="#7fcdbb" stroke-opacity="1" stroke-width="0.5"/>
<path d="M701.4 320.0 L695.4 327.8 L691.9 330.0 L679.8 326.0 L677.3 320.0" class="w"/>
<polygon points="609.7,294.4 625.3,286.7 630.5,290.1 647.7,291.0 652.9,287.5 666.7,292.7 667.6,297.9 658.1,299.6 656.3,303.0 648.6,298.7 643.4,307.4 630.5,305.6 616.7,297.9" fill="#5698b5" stroke="#5698b5" stroke-opacity="1" stroke-width="0.5"/>
<path d="M609.7 294.4 L625.3 286.7 L630.5 290.1 L647.7 291.0 L652.9 287.5 L666.7 292.7 L667.6 297.9 L658.1 299.6 L656.3 303.0 L648.6 298.7 L643.4 307.4 L630.5 305.6 L616.7 297.9 L609.7 294.4" class="w"/>
<polyline points="386.9,248.7 392.1,249.5 397.3,247.0 402.4,248.7 407.6,245.2 413.7,238.3 421.4,234.0" class="w"/>
<polyline points="433.5,285.8 440.4,287.5 452.5,284.9 466.3,279.7 474.9,279.7 483.6,283.2 494.8,280.6 499.1,274.6 499.1,265.9 501.7,259.0 500.8,254.2 522.4,254.2 521.9,266.8 530.2,265.9 540.0,265.1 520.0,267.7 537.3,265.1 554.5,259.4" class="w"/>
<polyline points="422.3,234.0 425.7,228.0 422.3,218.5 439.5,219.3 446.4,223.7 450.8,222.4 460.3,226.2 457.7,233.1 466.3,242.6 474.9,238.3 486.1,239.5 485.3,247.0 493.9,247.8 500.8,252.1 500.8,254.2" class="w"/>
<polyline points="489.6,197.8 493.0,202.1 493.9,215.9 492.2,233.1 493.9,247.0" class="w"/>
<polyline points="521.5,193.5 512.9,202.1 508.6,212.4 512.9,219.3 523.3,224.5 527.6,238.3 523.3,253.9" class="w"/>
<polyline points="512.9,202.9 528.4,209.0 540.0,224.5 547.6,230.6 549.3,236.6 554.5,240.1" class="w"/>
<polyline points="499.1,274.6 497.4,279.7 518.9,273.7 521.9,266.8" class="w"/>
<polyline points="523.3,253.9 521.9,266.8 518.9,273.7 521.5,286.7 520.7,300.5 523.3,309.1 519.8,320.0 519.8,323.5 517.2,331.2" class="w"/>
<polyline points="497.4,279.7 494.8,286.7 500.8,291.8 502.5,297.9 513.8,303.9 520.7,301.3" class="w"/>
<polyline points="521.5,290.1 528.4,303.9 530.2,310.8 533.6,320.0 532.7,320.0 540.0,328.6" class="w"/>
<polyline points="421.4,234.0 422.3,241.8 424.9,247.0 424.0,255.6 427.5,265.9 428.3,274.6 432.6,281.5 433.5,285.8 431.8,290.1" class="w"/>
<polyline points="555.4,304.8 559.7,314.3 562.3,320.0" class="w"/>
<polyline points="574.4,304.8 570.1,305.6" class="w"/>
<polyline points="609.7,223.7 607.2,234.9 606.3,244.4 583.0,246.1" class="w"/>
<polyline points="620.1,264.2 609.7,266.8 610.6,272.0 604.6,274.6 603.7,278.0" class="w"/>
<polyline points="633.0,258.2 637.4,264.2 638.2,276.3 637.4,283.2 639.1,286.7" class="w"/>
<polyline points="648.6,267.7 652.9,271.1 658.1,278.9 652.9,286.7" class="w"/>
<polyline points="625.3,286.7 609.7,294.4" class="w"/>
<polyline points="667.6,297.9 670.2,302.2 677.9,302.2 680.0,300.5" class="w"/>
<polyline points="643.4,307.4 646.0,314.3 647.7,320.0" class="w"/>
<polyline points="656.3,303.0 658.1,310.8 665.0,314.3 670.2,320.0" class="w"/>
<polyline points="630.5,305.6 633.0,310.8 630.5,320.0" class="w"/>
<polyline points="670.4,290.1 660.0,279.7" class="w"/>
<polyline points="672.9,284.1 680.7,272.8" class="w"/>
<polyline points="738.5,302.2 741.1,303.9 749.7,312.5 763.6,317.7 770.5,320.0 777.0,323.1 783.0,326.9" class="w"/>
<polyline points="745.4,285.8 738.5,286.7 735.9,290.1" class="w"/>
<polyline points="748.0,264.2 746.3,272.8 745.4,281.5 745.4,285.8 751.5,288.4 754.1,291.8 758.4,295.3 770.5,294.4 780.8,293.6 784.3,289.2 785.1,276.3 786.0,265.9 788.6,257.3" class="w"/>
<polyline points="753.2,262.5 748.0,264.2" class="w"/>
<polyline points="787.7,270.3 793.8,271.1 796.3,275.4 801.5,278.9 820.0,280.6" class="w"/>
<polyline points="827.2,259.0 836.7,257.8 853.1,261.6 850.5,255.6 852.3,250.4 845.4,247.0 841.9,240.9" class="w"/>
<polyline points="782.4,236.6 783.2,248.7 789.3,253.9" class="w"/>
<polyline points="823.8,271.1 822.1,265.9 827.2,259.0" class="w"/>
<polyline points="460.3,347.6 476.7,345.9 483.6,346.8 487.0,349.3 492.2,345.0 499.1,343.3" class="w"/>
<polyline points="517.2,331.2 514.6,342.4 517.2,354.5 519.8,366.6 525.0,375.2" class="w"/>
<polyline points="438.7,421.0 444.7,435.6 452.5,439.1 462.8,447.7 464.6,450.0" class="w"/>
<polyline points="435.2,419.8 438.7,421.0 452.5,420.1 457.7,425.3 459.4,421.0 463.7,423.6 476.7,419.2" class="w"/>
<polyline points="491.3,419.8 532.7,419.8" class="w"/>
<polyline points="532.7,425.3 526.7,434.8 540.0,432.2" class="w"/>
<polyline points="481.0,437.4 479.2,440.8" class="w"/>
<polyline points="532.9,320.0 537.3,326.0 542.4,336.4 548.5,342.4 558.8,351.9 562.3,366.6 565.7,373.5 557.1,383.9" class="w"/>
<polyline points="548.5,342.4 555.4,337.3 560.6,336.4 562.3,323.5 561.4,320.0" class="w"/>
<polyline points="562.3,323.5 571.8,330.4 577.0,342.4 579.5,347.6 584.7,360.6 589.9,370.9" class="w"/>
<polyline points="573.5,333.8 587.3,330.4 594.2,332.9 602.0,333.8 605.4,343.3" class="w"/>
<polyline points="579.5,347.6 587.3,349.3 601.1,347.6 605.4,343.3" class="w"/>
<polyline points="589.9,370.9 601.1,372.6 606.3,370.1" class="w"/>
<polyline points="615.8,361.4 618.4,362.3 619.2,351.1" class="w"/>
<polyline points="589.9,376.1 581.3,392.5 577.8,399.4 565.7,412.3" class="w"/>
<polyline points="647.7,369.2 652.9,383.9 658.1,395.9 661.5,406.3 663.3,408.0" class="w"/>
<polyline points="653.8,364.9 666.7,364.0 680.0,354.5" class="w"/>
<polyline points="595.1,376.1 602.8,379.5 614.1,391.6 618.4,395.9 627.9,389.0" class="w"/>
<polyline points="633.9,393.4 639.1,404.6 643.4,416.7 646.0,422.7 652.9,430.5" class="w"/>
<polyline points="621.8,432.2 623.6,427.9 637.4,420.1 652.9,430.5" class="w"/>
<polyline points="628.7,326.9 632.2,321.7" class="w"/>
<polyline points="660.0,364.9 666.9,364.9 675.5,356.2 684.2,352.8 701.4,342.4 715.2,337.3" class="w"/>
<polyline points="726.4,331.2 735.9,339.8 746.3,352.8 753.2,360.6 758.4,370.1 753.2,382.1 748.0,394.2 745.4,404.6 740.3,409.7 734.2,423.6 729.9,437.4 720.4,444.3 699.7,447.7 694.5,450.0" class="w"/>
<polyline points="726.4,331.2 722.1,344.2 715.2,356.2 707.5,378.7 705.7,394.2 704.0,410.6 710.1,409.7 721.3,396.8 719.5,408.0 729.0,404.6 740.3,409.7" class="w"/>
<polyline points="753.2,360.6 763.6,361.4 771.3,365.7 774.8,379.5 780.8,386.4 787.7,382.1 796.3,387.3 798.1,396.8 810.2,392.5 820.0,395.9" class="w"/>
<polyline points="787.7,382.1 788.6,363.1 791.2,347.6" class="w"/>
<polyline points="788.6,408.9 796.3,409.7 811.9,402.8 820.0,395.9" class="w"/>
<polyline points="729.9,437.4 734.2,444.3 735.9,450.0" class="w"/>
<polyline points="701.4,320.0 695.4,327.8 691.9,330.0" class="w"/>
<polyline points="724.7,320.0 724.7,326.9 726.4,331.2 715.2,337.3 700.6,348.5 693.7,359.7 691.1,375.2 682.4,392.5 678.1,402.8 680.7,413.2 675.5,414.9 667.8,414.1 660.0,401.1" class="w"/>
<polyline points="660.0,406.3 667.8,416.7" class="w"/>
<polyline points="836.7,351.9 837.6,364.9 830.7,378.7 822.1,390.8 815.1,402.8 810.0,413.2 804.8,425.3 804.8,439.1" class="w"/>
<polyline points="806.5,353.7 816.9,351.9 823.8,350.2 827.2,351.1 836.7,351.9" class="w"/>
<polyline points="438.0,420.7 443.1,434.2 451.8,438.5 458.7,444.5 463.9,452.3 469.0,455.2 470.8,454.9" class="w"/>
<polyline points="431.1,410.0 433.7,419.5 438.0,420.7 453.5,422.9 457.8,425.5 460.4,421.2 463.9,423.8 469.0,421.2 475.9,418.6" class="w"/>
<polyline points="519.1,499.7 522.5,499.7 526.0,506.7 529.4,505.8 529.4,498.0" class="w"/>
<polyline points="469.0,461.8 475.1,474.7 472.5,480.8 451.8,485.1 449.2,488.5" class="w"/>
<polyline points="549.5,441.6 557.3,437.3 565.9,440.7 574.5,442.4 581.4,440.7" class="w"/>
<polyline points="571.9,495.9 586.6,495.9 602.1,492.5 597.8,501.1 605.6,508.0 600.4,514.9 611.6,514.1 609.9,520.1 624.6,510.6" class="w"/>
<polyline points="602.1,465.2 614.2,462.3 613.4,466.6 604.7,471.8 603.9,470.1" class="w"/>
<polyline points="614.2,462.3 621.1,458.0 624.6,463.1 614.2,465.7" class="w"/>
<polyline points="624.6,463.1 625.4,466.6 624.6,472.6 629.7,475.2 628.0,481.3 636.7,482.1 643.6,488.2" class="w"/>
<polyline points="604.7,471.8 613.4,466.6 624.6,464.0" class="w"/>
<polyline points="618.5,492.5 640.1,492.5" class="w"/>
<polyline points="617.7,495.1 618.5,492.5" class="w"/>
<polyline points="643.6,521.8 643.6,516.7" class="w"/>
<polyline points="710.5,473.6 705.6,476.7 704.8,488.7 698.7,490.8 694.1,487.7 689.7,481.8 695.3,477.4" class="w"/>
<polyline points="641.8,519.2 643.6,521.8 641.8,550.0" class="w"/>
<polyline points="735.7,420.0 730.6,436.4 716.8,446.8 703.8,445.9 690.0,451.9" class="w"/>
<polyline points="730.6,436.4 735.7,444.2 734.0,451.9 736.6,456.2 747.0,454.5 750.4,450.2 759.0,451.9" class="w"/>
<polyline points="703.8,455.4 716.8,446.8" class="w"/>
<polyline points="703.8,455.4 709.0,461.4 710.7,466.6 721.9,464.9 727.1,460.6 728.8,464.9 736.6,456.2" class="w"/>
<polyline points="710.7,466.6 710.7,473.5 719.3,477.0 721.9,477.8" class="w"/>
<polyline points="710.7,473.5 705.5,477.0 706.4,487.3 702.1,490.8 696.9,487.3 690.0,486.4" class="w"/>
<polyline points="690.0,480.4 695.2,477.0 690.0,482.1" class="w"/>
<polyline points="739.2,476.1 750.4,473.5 760.8,464.9 765.9,458.8" class="w"/>
<polyline points="745.2,530.5 735.7,539.1" class="w"/>
<polyline points="591.5,560.8 594.9,548.7 596.7,540.1 601.8,531.4 610.5,520.2 612.2,513.3" class="w"/>
<polyline points="642.9,521.1 639.5,562.5" class="w"/>
</g>

<g>
<path d="M639,299.8 L633.7,291.6 A6.3 6.3 0 1 1 644.3,291.6 Z M639,284.5 a3.7 3.7 0 1 0 0.001,0 Z" fill="#e91e63" fill-rule="evenodd" stroke="#fff" stroke-width="0.9" stroke-opacity="0.9"/>
<path d="M368,716 L363.5,709.4 A5.35 5.35 0 1 1 372.5,709.4 Z M368,703.4 a3.2 3.2 0 1 0 0.001,0 Z" fill="#e91e63" fill-rule="evenodd"/>
<g fill="none" stroke="#999" stroke-linecap="round">
<circle cx="859.6" cy="100.4" r="5.4" stroke-width="1.9"/>
<path d="M863.8,104.8 L867.6,108.4" stroke-width="2.4"/>
<path d="M857,100.4 H862.2 M859.6,97.8 V103" stroke-width="1.1" stroke-linecap="butt"/>
</g>
<g fill="#999">
<rect x="878" y="102.2" width="15" height="4.6" rx="0.8"/>
<path d="M883.6,93.1 h3.6 v4.9 h3.1 l-5,5.4 l-4.9,-5.4 h3.2 z" stroke="#fff" stroke-width="0.9"/>
<rect x="888.2" y="104.6" width="1.2" height="1.1" fill="#ddd"/><rect x="890.4" y="104.6" width="1.2" height="1.1" fill="#ddd"/>
</g>
<path d="M309.6,440.6 L315.6,446.5 L309.6,452.4 M309.6,542.6 L315.6,548.5 L309.6,554.4" fill="none" stroke="#999" stroke-width="2.6" stroke-linecap="butt" stroke-linejoin="miter"/>
</g>

</svg>

<!-- legend -->
<div class="abs t12" style="left:357px;top:622px;line-height:15px">Legenda</div>
<div class="abs" style="left:357px;top:642px;width:134px;height:6px;background:#7fcdbb"></div>
<div class="abs" style="left:494px;top:642px;width:131px;height:6px;background:#41b6c4"></div>
<div class="abs" style="left:628px;top:642px;width:131px;height:6px;background:#2e8bc9"></div>
<div class="abs" style="left:762px;top:642px;width:131px;height:6px;background:#1d769c"></div>
<div class="abs t12" style="left:360px;top:649px;line-height:15px">até 95,7 %</div>
<div class="abs t12" style="left:494px;top:649px;line-height:15px">até 97,2 %</div>
<div class="abs t12" style="left:628px;top:649px;line-height:15px">até 98,2 %</div>
<div class="abs t12" style="left:762px;top:649px;line-height:15px">mais que 98,2 %</div>
<div class="abs" style="left:357px;top:673px;width:20px;height:20px;background:#ccc"></div>
<div class="abs t12" style="left:387px;top:674px;line-height:15px">Dado inexistente para este município</div>
<div class="abs t12" style="left:380px;top:706px;line-height:15px">Local selecionado</div>

<div class="abs" style="left:926px;top:309px;width:12px;height:40px;border-radius:6px;background:linear-gradient(#2f7ee8,#2468d6)"></div>
</body>
</html>
